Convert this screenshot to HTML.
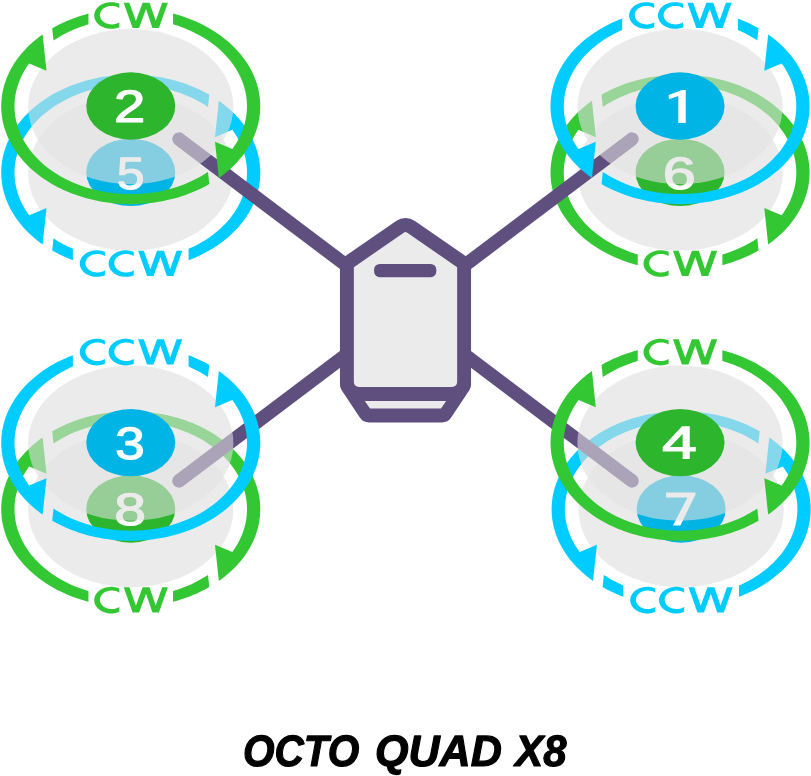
<!DOCTYPE html>
<html>
<head>
<meta charset="utf-8">
<title>OCTO QUAD X8</title>
<style>
html,body{margin:0;padding:0;background:#fff;}
svg{display:block;font-family:"Liberation Sans",sans-serif;will-change:transform;}
text{text-rendering:geometricPrecision;}
</style>
</head>
<body>
<svg width="811" height="776" viewBox="0 0 811 776">
<rect width="811" height="776" fill="#fff"/>
<g id="lower">
<ellipse cx="130.75" cy="173.00" rx="102.65" ry="77.62" fill="#ebebeb"/>
<path d="M223.53,139.80 222.21,137.76 220.96,135.96 219.65,134.19 218.27,132.44 216.84,130.73 215.35,129.04 213.80,127.38 212.19,125.75 210.52,124.15 208.81,122.59 207.03,121.06 205.21,119.57 203.33,118.12 199.44,115.32 195.35,112.68 193.24,111.42 191.09,110.21 186.66,107.90 182.08,105.78 177.35,103.84 174.94,102.94 170.03,101.29 167.54,100.54 162.47,99.18 159.90,98.58 157.32,98.03 152.09,97.08 149.46,96.68 144.15,96.05 138.80,95.62 133.44,95.41 130.75,95.38 125.38,95.49 122.70,95.62 117.35,96.05 114.69,96.34 109.41,97.08 106.79,97.53 101.60,98.58 99.03,99.18 93.96,100.54 91.47,101.29 86.56,102.94 81.77,104.79 79.42,105.78 74.84,107.90 72.61,109.03 68.26,111.42 66.15,112.68 62.06,115.32 58.17,118.12 56.29,119.57 54.47,121.06 52.69,122.59 50.98,124.15 49.31,125.75 47.70,127.38 46.15,129.04 44.66,130.73 43.23,132.44 41.85,134.19 40.54,135.96 39.29,137.76 37.97,139.80 39.29,141.84 40.54,143.64 41.85,145.41 43.23,147.16 44.66,148.87 46.15,150.56 47.70,152.22 49.31,153.85 50.98,155.45 52.69,157.01 54.47,158.54 56.29,160.03 58.17,161.48 60.09,162.90 64.08,165.62 68.26,168.18 72.61,170.57 74.84,171.70 77.12,172.78 81.77,174.81 84.15,175.76 89.00,177.51 91.47,178.31 96.48,179.77 101.60,181.02 106.79,182.07 109.41,182.52 112.04,182.92 117.35,183.55 120.02,183.79 125.38,184.11 130.75,184.22 136.12,184.11 138.80,183.98 141.48,183.79 146.81,183.26 149.46,182.92 154.71,182.07 159.90,181.02 165.02,179.77 167.54,179.06 170.03,178.31 174.94,176.66 179.73,174.81 182.08,173.82 186.66,171.70 188.89,170.57 193.24,168.18 195.35,166.92 199.44,164.28 201.41,162.90 203.33,161.48 205.21,160.03 207.03,158.54 208.81,157.01 210.52,155.45 212.19,153.85 213.80,152.22 215.35,150.56 216.84,148.87 218.27,147.16 219.65,145.41 220.96,143.64 222.21,141.84Z" fill="#f3f3f3"/>
<path transform="translate(130.75,172.60)" d="M-60.81,86.48 -65.75,84.40 -69.60,82.61 -74.30,80.24 -78.53,77.90 -77.23,65.70 -74.72,67.34 -72.37,68.79 -69.96,70.20 -67.51,71.56 -65.00,72.87 -62.46,74.13 -57.85,76.24 -57.85,87.64ZM-88.10,71.81 -90.79,69.86 -93.18,68.04 -97.02,64.90 -100.67,61.64 -102.77,59.63 -104.80,57.57 -108.02,54.06 -111.04,50.45 -112.74,48.23 -114.38,45.98 -116.92,42.17 -119.24,38.27 -120.53,35.90 -121.73,33.50 -123.54,29.45 -124.52,27.00 -125.41,24.52 -126.71,20.36 -127.37,17.85 -127.94,15.32 -128.43,12.79 -128.83,10.24 -129.30,5.98 -129.52,1.71 -129.53,-0.85 -129.46,-3.42 -129.14,-7.69 -128.57,-11.94 -128.12,-14.48 -127.57,-17.01 -126.47,-21.20 -125.12,-25.35 -124.20,-27.82 -123.20,-30.27 -122.11,-32.70 -120.93,-35.10 -118.79,-39.06 -117.40,-41.40 -115.93,-43.71 -113.30,-47.49 -111.61,-49.71 -109.86,-51.91 -106.76,-55.48 -103.45,-58.95 -101.38,-60.98 -99.23,-62.96 -95.51,-66.17 -91.60,-69.26 -87.52,-72.22 -84.99,-73.92 -82.40,-75.58 -77.96,-78.23 -75.22,-79.74 -72.44,-81.20 -69.60,-82.61 -66.72,-83.96 -61.81,-86.08 -58.81,-87.27 -55.77,-88.41 -50.61,-90.16 -47.48,-91.13 -44.30,-92.04 -38.95,-93.42 -33.53,-94.61 -30.24,-95.24 -26.93,-95.81 -21.38,-96.61 -18.03,-97.00 -14.66,-97.32 -9.04,-97.71 -5.65,-97.86 -2.26,-97.94 1.13,-97.95 4.52,-97.89 10.16,-97.65 13.54,-97.41 16.91,-97.11 22.49,-96.46 28.04,-95.63 31.34,-95.04 34.62,-94.39 40.03,-93.16 43.24,-92.33 46.42,-91.44 51.65,-89.83 54.75,-88.77 57.80,-87.66 62.80,-85.67 65.75,-84.40 68.65,-83.07 73.37,-80.72 76.14,-79.24 78.53,-77.90 77.23,-65.70 74.72,-67.34 72.37,-68.79 69.96,-70.20 67.51,-71.56 65.00,-72.87 62.46,-74.13 59.87,-75.35 56.36,-76.88 53.68,-77.97 50.96,-79.00 48.21,-79.99 44.49,-81.21 41.66,-82.06 38.80,-82.86 34.96,-83.83 32.04,-84.49 28.12,-85.29 25.16,-85.82 22.18,-86.29 19.19,-86.69 16.18,-87.04 13.16,-87.33 9.12,-87.63 6.08,-87.78 3.04,-87.87 0.00,-87.90 -3.04,-87.87 -6.08,-87.78 -9.12,-87.63 -12.15,-87.42 -16.18,-87.04 -19.19,-86.69 -24.17,-85.98 -29.11,-85.10 -33.99,-84.06 -38.80,-82.86 -43.55,-81.50 -48.21,-79.99 -52.78,-78.32 -57.24,-76.50 -61.60,-74.54 -65.84,-72.44 -69.96,-70.20 -73.94,-67.83 -77.78,-65.32 -81.48,-62.69 -85.02,-59.95 -87.06,-58.24 -89.05,-56.50 -92.23,-53.51 -95.22,-50.42 -98.04,-47.23 -100.67,-43.95 -103.11,-40.59 -105.36,-37.15 -107.40,-33.64 -109.24,-30.06 -110.87,-26.43 -112.29,-22.75 -113.49,-19.03 -114.48,-15.26 -115.25,-11.47 -115.81,-7.66 -116.14,-3.83 -116.25,-0.00 -116.21,2.30 -116.03,5.37 -115.71,8.42 -115.38,10.71 -114.82,13.75 -114.11,16.77 -113.49,19.03 -112.54,22.01 -111.46,24.96 -110.24,27.89 -108.89,30.78 -107.78,32.93 -106.20,35.75 -104.92,37.84 -103.11,40.59 -101.57,42.75 -84.24,35.45ZM129.42,4.27 129.14,7.69 128.83,10.24 128.28,13.63 127.57,17.01 126.71,20.36 125.69,23.70 124.83,26.18 123.54,29.45 122.11,32.70 120.53,35.90 119.24,38.27 117.40,41.40 115.42,44.47 113.30,47.49 111.04,50.45 108.64,53.35 106.11,56.18 103.45,58.95 101.38,60.98 98.50,63.61 95.51,66.17 92.39,68.65 89.17,71.05 86.68,72.79 83.27,75.03 79.75,77.19 76.14,79.24 73.37,80.72 69.60,82.61 65.75,84.40 61.81,86.08 57.85,87.64 57.85,76.24 60.74,74.95 64.16,73.30 67.51,71.56 70.77,69.74 73.16,68.31 76.27,66.34 79.28,64.29 82.20,62.15 84.32,60.51 87.06,58.24 89.70,55.91 92.23,53.51 94.05,51.67 96.37,49.15 98.58,46.58 100.67,43.95 102.16,41.94 103.58,39.91 105.78,36.45 107.01,34.35 108.16,32.22 109.91,28.62 111.46,24.96 112.29,22.75 113.04,20.52 114.11,16.77 114.65,14.51 115.12,12.23 115.71,8.42 116.03,5.37 116.21,2.30 116.24,-0.77 116.14,-3.83 115.89,-6.90 115.50,-9.95 114.82,-13.75 114.11,-16.77 113.27,-19.77 112.02,-23.49 110.87,-26.43 109.58,-29.34 108.16,-32.22 106.20,-35.75 104.48,-38.53 103.11,-40.59 101.57,-42.75 84.24,-35.45 88.10,-71.81 90.79,-69.86 93.18,-68.04 95.51,-66.17 97.76,-64.26 99.96,-62.30 102.08,-60.30 104.13,-58.26 106.11,-56.18 108.02,-54.06 109.86,-51.91 111.61,-49.71 113.30,-47.49 114.90,-45.23 116.43,-42.94 117.88,-40.62 119.68,-37.48 120.93,-35.10 122.11,-32.70 123.54,-29.45 124.52,-27.00 125.41,-24.52 126.22,-22.03 126.94,-19.53 127.57,-17.01 128.12,-14.48 128.57,-11.94 129.05,-8.54 129.30,-5.98 129.46,-3.42 129.53,-0.85 129.52,1.71Z" fill="#00ccff"/>
<path transform="translate(131.10,275.95)" d="M15.95,0.00 22.45,0.00 29.32,-18.83 35.75,0.00 42.25,0.00 51.20,-25.20 45.50,-25.20 39.05,-7.04 32.85,-25.20 25.95,-25.20 19.23,-6.80 12.70,-25.20 7.00,-25.20ZM-28.21,-24.82 -29.90,-25.25 -31.64,-25.54 -33.41,-25.68 -34.30,-25.70 -36.08,-25.63 -36.96,-25.54 -37.83,-25.41 -39.55,-25.05 -41.21,-24.55 -42.02,-24.25 -43.56,-23.55 -44.29,-23.16 -45.68,-22.28 -46.32,-21.80 -46.93,-21.30 -47.51,-20.77 -48.05,-20.22 -48.56,-19.64 -49.02,-19.05 -49.45,-18.44 -49.83,-17.81 -50.17,-17.17 -50.47,-16.51 -50.72,-15.84 -50.93,-15.17 -51.09,-14.48 -51.21,-13.79 -51.28,-13.10 -51.30,-12.40 -51.28,-11.70 -51.21,-11.01 -51.09,-10.32 -50.93,-9.63 -50.72,-8.96 -50.47,-8.29 -50.17,-7.63 -49.83,-6.99 -49.45,-6.36 -49.02,-5.75 -48.56,-5.16 -48.05,-4.58 -47.51,-4.03 -46.93,-3.50 -46.32,-3.00 -45.68,-2.52 -45.00,-2.06 -44.29,-1.64 -42.80,-0.88 -41.21,-0.25 -40.39,0.02 -38.70,0.45 -36.96,0.74 -36.08,0.83 -34.30,0.90 -32.52,0.83 -31.64,0.74 -30.77,0.61 -29.05,0.25 -27.39,-0.25 -26.20,-0.71 -26.20,-5.60 -27.27,-4.99 -27.80,-4.74 -28.91,-4.30 -29.49,-4.11 -30.67,-3.82 -31.89,-3.61 -33.13,-3.51 -33.75,-3.50 -34.37,-3.51 -35.61,-3.61 -36.83,-3.82 -38.01,-4.11 -38.59,-4.30 -39.70,-4.74 -40.23,-4.99 -41.24,-5.56 -41.71,-5.88 -42.59,-6.56 -43.00,-6.93 -43.73,-7.71 -44.35,-8.55 -44.62,-8.99 -45.07,-9.89 -45.39,-10.83 -45.58,-11.78 -45.63,-12.27 -45.65,-12.75 -45.58,-13.72 -45.50,-14.20 -45.24,-15.14 -44.86,-16.06 -44.35,-16.95 -44.06,-17.37 -43.38,-18.19 -43.00,-18.57 -42.16,-19.29 -41.24,-19.94 -40.74,-20.23 -40.23,-20.51 -39.15,-20.99 -38.01,-21.39 -37.43,-21.55 -36.22,-21.80 -34.99,-21.95 -34.37,-21.99 -33.75,-22.00 -32.51,-21.95 -31.89,-21.89 -30.67,-21.68 -30.07,-21.55 -28.91,-21.20 -28.35,-20.99 -27.27,-20.51 -26.20,-19.90 -26.20,-24.09 -27.39,-24.55ZM0.64,-24.82 -1.05,-25.25 -2.79,-25.54 -4.56,-25.68 -5.45,-25.70 -7.23,-25.63 -8.11,-25.54 -8.98,-25.41 -10.70,-25.05 -11.54,-24.82 -13.17,-24.25 -14.71,-23.55 -15.44,-23.16 -16.83,-22.28 -17.47,-21.80 -18.08,-21.30 -18.66,-20.77 -19.20,-20.22 -19.71,-19.64 -20.17,-19.05 -20.60,-18.44 -20.98,-17.81 -21.32,-17.17 -21.62,-16.51 -21.87,-15.84 -22.08,-15.17 -22.24,-14.48 -22.36,-13.79 -22.43,-13.10 -22.45,-12.40 -22.43,-11.70 -22.36,-11.01 -22.24,-10.32 -22.08,-9.63 -21.87,-8.96 -21.62,-8.29 -21.32,-7.63 -20.98,-6.99 -20.60,-6.36 -20.17,-5.75 -19.71,-5.16 -19.20,-4.58 -18.66,-4.03 -18.08,-3.50 -17.47,-3.00 -16.83,-2.52 -15.44,-1.64 -14.71,-1.25 -13.17,-0.55 -11.54,0.02 -10.70,0.25 -8.98,0.61 -8.11,0.74 -7.23,0.83 -5.45,0.90 -3.67,0.83 -2.79,0.74 -1.92,0.61 -0.20,0.25 1.46,-0.25 2.65,-0.71 2.65,-5.60 1.58,-4.99 1.05,-4.74 -0.06,-4.30 -0.64,-4.11 -1.82,-3.82 -3.04,-3.61 -4.28,-3.51 -4.90,-3.50 -6.14,-3.55 -7.37,-3.70 -7.98,-3.82 -8.58,-3.95 -9.74,-4.30 -10.85,-4.74 -11.38,-4.99 -12.39,-5.56 -12.86,-5.88 -13.74,-6.56 -14.15,-6.93 -14.88,-7.71 -15.50,-8.55 -15.77,-8.99 -16.22,-9.89 -16.39,-10.36 -16.65,-11.30 -16.78,-12.27 -16.80,-12.75 -16.73,-13.72 -16.65,-14.20 -16.39,-15.14 -16.22,-15.61 -15.77,-16.51 -15.21,-17.37 -14.53,-18.19 -14.15,-18.57 -13.31,-19.29 -12.39,-19.94 -11.89,-20.23 -11.38,-20.51 -10.30,-20.99 -9.16,-21.39 -8.58,-21.55 -7.37,-21.80 -6.14,-21.95 -5.52,-21.99 -4.90,-22.00 -3.66,-21.95 -3.04,-21.89 -1.82,-21.68 -1.22,-21.55 -0.06,-21.20 0.50,-20.99 1.58,-20.51 2.65,-19.90 2.65,-24.09 1.46,-24.55Z" fill="#00ccff"/>
<ellipse cx="130.75" cy="172.40" rx="44.5" ry="33.65" fill="#00b4e6"/>
<text transform="translate(116.66,188.75) scale(1.1008,1)" font-size="45.4" fill="#fff" stroke="#fff" stroke-width="1.2" stroke-linejoin="round">5</text>
<ellipse cx="680.05" cy="173.00" rx="102.65" ry="77.62" fill="#ebebeb"/>
<path d="M772.83,139.80 771.51,137.76 770.26,135.96 768.95,134.19 767.57,132.44 766.14,130.73 764.65,129.04 763.10,127.38 761.49,125.75 759.82,124.15 758.11,122.59 756.33,121.06 754.51,119.57 752.63,118.12 750.71,116.70 746.72,113.98 742.54,111.42 738.19,109.03 735.96,107.90 731.38,105.78 726.65,103.84 724.24,102.94 719.33,101.29 716.84,100.54 711.77,99.18 709.20,98.58 706.62,98.03 701.39,97.08 698.76,96.68 693.45,96.05 688.10,95.62 682.74,95.41 680.05,95.38 674.68,95.49 672.00,95.62 669.32,95.81 663.99,96.34 658.71,97.08 656.09,97.53 650.90,98.58 645.78,99.83 643.26,100.54 638.30,102.09 635.86,102.94 631.07,104.79 626.42,106.82 624.14,107.90 619.71,110.21 617.56,111.42 615.45,112.68 611.36,115.32 609.39,116.70 607.47,118.12 605.59,119.57 603.77,121.06 601.99,122.59 600.28,124.15 598.61,125.75 597.00,127.38 595.45,129.04 593.96,130.73 592.53,132.44 591.15,134.19 589.84,135.96 588.59,137.76 587.27,139.80 588.59,141.84 589.84,143.64 591.15,145.41 592.53,147.16 593.96,148.87 595.45,150.56 597.00,152.22 598.61,153.85 600.28,155.45 601.99,157.01 603.77,158.54 605.59,160.03 607.47,161.48 609.39,162.90 611.36,164.28 615.45,166.92 617.56,168.18 619.71,169.39 624.14,171.70 626.42,172.78 631.07,174.81 633.45,175.76 638.30,177.51 640.77,178.31 645.78,179.77 650.90,181.02 656.09,182.07 661.34,182.92 663.99,183.26 669.32,183.79 672.00,183.98 674.68,184.11 680.05,184.22 685.42,184.11 688.10,183.98 690.78,183.79 696.11,183.26 698.76,182.92 704.01,182.07 709.20,181.02 714.32,179.77 716.84,179.06 719.33,178.31 724.24,176.66 726.65,175.76 731.38,173.82 735.96,171.70 740.39,169.39 742.54,168.18 746.72,165.62 750.71,162.90 752.63,161.48 754.51,160.03 756.33,158.54 758.11,157.01 759.82,155.45 761.49,153.85 763.10,152.22 764.65,150.56 766.14,148.87 767.57,147.16 768.95,145.41 770.26,143.64 771.51,141.84Z" fill="#f3f3f3"/>
<path transform="translate(680.05,172.60)" d="M45.37,91.75 50.61,90.16 54.75,88.77 58.81,87.27 62.80,85.67 66.72,83.96 70.55,82.15 74.30,80.24 78.53,77.90 77.23,65.70 73.16,68.31 69.15,70.66 65.00,72.87 60.74,74.95 56.36,76.88 51.87,78.66 47.28,80.30 42.30,81.87 42.30,92.58ZM88.10,71.81 90.79,69.86 93.18,68.04 97.02,64.90 100.67,61.64 102.77,59.63 104.80,57.57 108.02,54.06 111.04,50.45 112.74,48.23 114.38,45.98 116.92,42.17 119.24,38.27 120.53,35.90 121.73,33.50 123.54,29.45 124.52,27.00 125.41,24.52 126.71,20.36 127.37,17.85 127.94,15.32 128.43,12.79 128.83,10.24 129.30,5.98 129.52,1.71 129.53,-0.85 129.46,-3.42 129.14,-7.69 128.57,-11.94 128.12,-14.48 127.57,-17.01 126.47,-21.20 125.12,-25.35 124.20,-27.82 123.20,-30.27 122.11,-32.70 120.93,-35.10 118.79,-39.06 117.40,-41.40 115.93,-43.71 113.30,-47.49 111.61,-49.71 109.86,-51.91 106.76,-55.48 103.45,-58.95 101.38,-60.98 99.23,-62.96 95.51,-66.17 91.60,-69.26 87.52,-72.22 84.99,-73.92 82.40,-75.58 77.96,-78.23 75.22,-79.74 72.44,-81.20 69.60,-82.61 66.72,-83.96 61.81,-86.08 58.81,-87.27 55.77,-88.41 50.61,-90.16 47.48,-91.13 44.30,-92.04 38.95,-93.42 33.53,-94.61 30.24,-95.24 26.93,-95.81 21.38,-96.61 18.03,-97.00 14.66,-97.32 9.04,-97.71 5.65,-97.86 2.26,-97.94 -1.13,-97.95 -4.52,-97.89 -10.16,-97.65 -13.54,-97.41 -16.91,-97.11 -22.49,-96.46 -28.04,-95.63 -31.34,-95.04 -34.62,-94.39 -40.03,-93.16 -43.24,-92.33 -46.42,-91.44 -51.65,-89.83 -54.75,-88.77 -57.80,-87.66 -62.80,-85.67 -65.75,-84.40 -68.65,-83.07 -73.37,-80.72 -76.14,-79.24 -78.53,-77.90 -77.23,-65.70 -74.72,-67.34 -72.37,-68.79 -69.96,-70.20 -67.51,-71.56 -65.00,-72.87 -62.46,-74.13 -59.87,-75.35 -56.36,-76.88 -53.68,-77.97 -50.96,-79.00 -48.21,-79.99 -44.49,-81.21 -41.66,-82.06 -38.80,-82.86 -34.96,-83.83 -32.04,-84.49 -28.12,-85.29 -25.16,-85.82 -22.18,-86.29 -19.19,-86.69 -16.18,-87.04 -13.16,-87.33 -9.12,-87.63 -6.08,-87.78 -3.04,-87.87 -0.00,-87.90 3.04,-87.87 6.08,-87.78 9.12,-87.63 12.15,-87.42 16.18,-87.04 19.19,-86.69 24.17,-85.98 29.11,-85.10 33.99,-84.06 38.80,-82.86 43.55,-81.50 48.21,-79.99 52.78,-78.32 57.24,-76.50 61.60,-74.54 65.84,-72.44 69.96,-70.20 73.94,-67.83 77.78,-65.32 81.48,-62.69 85.02,-59.95 87.06,-58.24 89.05,-56.50 92.23,-53.51 95.22,-50.42 98.04,-47.23 100.67,-43.95 103.11,-40.59 105.36,-37.15 107.40,-33.64 109.24,-30.06 110.87,-26.43 112.29,-22.75 113.49,-19.03 114.48,-15.26 115.25,-11.47 115.81,-7.66 116.14,-3.83 116.25,-0.00 116.21,2.30 116.03,5.37 115.71,8.42 115.38,10.71 114.82,13.75 114.11,16.77 113.49,19.03 112.54,22.01 111.46,24.96 110.24,27.89 108.89,30.78 107.78,32.93 106.20,35.75 104.92,37.84 103.11,40.59 101.57,42.75 84.24,35.45ZM-129.42,4.27 -129.05,8.54 -128.57,11.94 -127.94,15.32 -127.16,18.69 -126.22,22.03 -124.83,26.18 -123.54,29.45 -122.11,32.70 -120.53,35.90 -118.34,39.84 -116.43,42.94 -114.38,45.98 -112.18,48.98 -109.25,52.63 -106.76,55.48 -104.13,58.26 -101.38,60.98 -98.50,63.61 -94.74,66.80 -91.60,69.26 -88.35,71.64 -84.13,74.48 -80.64,76.66 -77.05,78.74 -73.37,80.72 -69.60,82.61 -64.77,84.83 -60.81,86.48 -56.79,88.04 -51.65,89.83 -47.48,91.13 -42.30,92.58 -42.30,81.87 -46.35,80.61 -50.05,79.34 -53.68,77.97 -57.24,76.50 -60.74,74.95 -64.16,73.30 -67.51,71.56 -70.77,69.74 -73.94,67.83 -77.03,65.83 -80.02,63.76 -82.91,61.61 -85.71,59.38 -88.40,57.09 -91.60,54.12 -94.05,51.67 -95.80,49.79 -97.49,47.87 -99.12,45.93 -100.67,43.95 -102.16,41.94 -103.58,39.91 -104.92,37.84 -106.20,35.75 -107.40,33.64 -108.53,31.50 -109.58,29.34 -110.56,27.16 -111.46,24.96 -112.29,22.75 -113.04,20.52 -113.71,18.28 -114.48,15.26 -115.25,11.47 -115.71,8.42 -116.03,5.37 -116.23,1.53 -116.23,-1.53 -116.03,-5.37 -115.71,-8.42 -115.25,-11.47 -114.65,-14.51 -113.71,-18.28 -112.79,-21.26 -111.46,-24.96 -110.24,-27.89 -108.89,-30.78 -107.40,-33.64 -106.20,-35.75 -104.48,-38.53 -103.11,-40.59 -101.57,-42.75 -84.24,-35.45 -88.10,-71.81 -90.79,-69.86 -93.18,-68.04 -95.51,-66.17 -97.76,-64.26 -99.96,-62.30 -102.08,-60.30 -104.13,-58.26 -106.11,-56.18 -108.02,-54.06 -109.86,-51.91 -111.61,-49.71 -113.30,-47.49 -114.90,-45.23 -116.43,-42.94 -117.88,-40.62 -119.68,-37.48 -120.93,-35.10 -122.11,-32.70 -123.54,-29.45 -124.52,-27.00 -125.41,-24.52 -126.22,-22.03 -126.94,-19.53 -127.57,-17.01 -128.12,-14.48 -128.57,-11.94 -129.05,-8.54 -129.30,-5.98 -129.46,-3.42 -129.53,-0.85 -129.52,1.71Z" fill="#33c733"/>
<path transform="translate(680.40,275.95)" d="M1.52,0.00 8.02,0.00 14.90,-18.83 21.33,0.00 27.83,0.00 36.78,-25.20 31.07,-25.20 24.62,-7.04 18.42,-25.20 11.52,-25.20 4.81,-6.80 -1.73,-25.20 -7.43,-25.20ZM-12.96,-24.55 -14.62,-25.05 -15.48,-25.25 -17.22,-25.54 -18.99,-25.68 -19.88,-25.70 -21.65,-25.63 -23.41,-25.41 -24.27,-25.25 -25.13,-25.05 -26.79,-24.55 -27.59,-24.25 -29.13,-23.55 -30.57,-22.74 -31.25,-22.28 -31.90,-21.80 -32.51,-21.30 -33.09,-20.77 -33.63,-20.22 -34.13,-19.64 -34.60,-19.05 -35.02,-18.44 -35.41,-17.81 -35.75,-17.17 -36.04,-16.51 -36.30,-15.84 -36.50,-15.17 -36.67,-14.48 -36.78,-13.79 -36.85,-13.10 -36.88,-12.40 -36.85,-11.70 -36.78,-11.01 -36.67,-10.32 -36.50,-9.63 -36.30,-8.96 -36.04,-8.29 -35.75,-7.63 -35.41,-6.99 -35.02,-6.36 -34.60,-5.75 -34.13,-5.16 -33.63,-4.58 -33.09,-4.03 -32.51,-3.50 -31.90,-3.00 -31.25,-2.52 -29.87,-1.64 -29.13,-1.25 -27.59,-0.55 -26.79,-0.25 -25.13,0.25 -23.41,0.61 -21.65,0.83 -19.87,0.90 -18.10,0.83 -17.22,0.74 -16.34,0.61 -14.62,0.25 -12.96,-0.25 -11.77,-0.71 -11.77,-5.60 -12.84,-4.99 -13.38,-4.74 -14.48,-4.30 -15.06,-4.11 -16.25,-3.82 -17.46,-3.61 -18.70,-3.51 -19.32,-3.50 -20.57,-3.55 -21.80,-3.70 -22.40,-3.82 -23.59,-4.11 -24.17,-4.30 -25.27,-4.74 -25.81,-4.99 -26.81,-5.56 -27.29,-5.88 -28.17,-6.56 -28.57,-6.93 -29.31,-7.71 -29.93,-8.55 -30.20,-8.99 -30.64,-9.89 -30.96,-10.83 -31.16,-11.78 -31.21,-12.27 -31.23,-12.75 -31.16,-13.72 -31.08,-14.20 -30.82,-15.14 -30.64,-15.61 -30.20,-16.51 -29.63,-17.37 -28.95,-18.19 -28.57,-18.57 -27.74,-19.29 -26.81,-19.94 -26.32,-20.23 -25.81,-20.51 -24.73,-20.99 -23.59,-21.39 -23.00,-21.55 -22.40,-21.68 -21.19,-21.89 -20.57,-21.95 -19.33,-22.00 -18.08,-21.95 -17.46,-21.89 -16.25,-21.68 -15.65,-21.55 -14.48,-21.20 -13.92,-20.99 -12.84,-20.51 -11.77,-19.90 -11.77,-24.09Z" fill="#33c733"/>
<ellipse cx="680.05" cy="172.40" rx="44.5" ry="33.65" fill="#2eb52e"/>
<text transform="translate(662.81,188.75) scale(1.3086,1)" font-size="45.4" fill="#fff" stroke="#fff" stroke-width="1.2" stroke-linejoin="round">6</text>
<ellipse cx="130.75" cy="509.60" rx="102.65" ry="77.62" fill="#ebebeb"/>
<path d="M223.53,476.40 222.21,474.36 220.96,472.56 219.65,470.79 218.27,469.04 216.84,467.33 215.35,465.64 213.80,463.98 212.19,462.35 210.52,460.75 208.81,459.19 207.03,457.66 205.21,456.17 203.33,454.72 201.41,453.30 197.42,450.58 195.35,449.28 193.24,448.02 188.89,445.63 184.38,443.42 182.08,442.38 177.35,440.44 172.50,438.69 170.03,437.89 165.02,436.43 159.90,435.18 154.71,434.13 152.09,433.68 149.46,433.28 144.15,432.65 138.80,432.22 133.44,432.01 130.75,431.98 128.06,432.01 122.70,432.22 117.35,432.65 112.04,433.28 109.41,433.68 106.79,434.13 101.60,435.18 99.03,435.78 93.96,437.14 89.00,438.69 84.15,440.44 81.77,441.39 77.12,443.42 74.84,444.50 70.41,446.81 66.15,449.28 64.08,450.58 60.09,453.30 58.17,454.72 56.29,456.17 54.47,457.66 52.69,459.19 50.98,460.75 49.31,462.35 47.70,463.98 46.15,465.64 44.66,467.33 43.23,469.04 41.85,470.79 40.54,472.56 39.29,474.36 37.97,476.40 39.29,478.44 40.54,480.24 41.85,482.01 43.23,483.76 44.66,485.47 46.15,487.16 47.70,488.82 49.31,490.45 50.98,492.05 52.69,493.61 54.47,495.14 56.29,496.63 58.17,498.08 62.06,500.88 64.08,502.22 68.26,504.78 72.61,507.17 74.84,508.30 79.43,510.42 81.77,511.41 86.56,513.26 91.47,514.91 93.96,515.66 96.48,516.37 101.60,517.62 106.79,518.67 109.41,519.12 112.04,519.52 117.35,520.15 122.70,520.58 125.38,520.71 130.75,520.82 136.12,520.71 138.80,520.58 141.48,520.39 146.81,519.86 152.09,519.12 154.71,518.67 159.90,517.62 165.02,516.37 167.54,515.66 172.50,514.11 174.94,513.26 179.73,511.41 182.08,510.42 186.66,508.30 188.89,507.17 193.24,504.78 197.42,502.22 199.44,500.88 203.33,498.08 205.21,496.63 207.03,495.14 208.81,493.61 210.52,492.05 212.19,490.45 213.80,488.82 215.35,487.16 216.84,485.47 218.27,483.76 219.65,482.01 220.96,480.24 222.21,478.44Z" fill="#f3f3f3"/>
<path transform="translate(130.75,509.20)" d="M45.37,91.75 50.61,90.16 54.75,88.77 58.81,87.27 62.80,85.67 66.72,83.96 70.55,82.15 74.30,80.24 78.53,77.90 77.23,65.70 73.16,68.31 69.15,70.66 65.00,72.87 60.74,74.95 56.36,76.88 51.87,78.66 47.28,80.30 42.30,81.87 42.30,92.58ZM88.10,71.81 90.79,69.86 93.18,68.04 97.02,64.90 100.67,61.64 102.77,59.63 104.80,57.57 108.02,54.06 111.04,50.45 112.74,48.23 114.38,45.98 116.92,42.17 119.24,38.27 120.53,35.90 121.73,33.50 123.54,29.45 124.52,27.00 125.41,24.52 126.71,20.36 127.37,17.85 127.94,15.32 128.43,12.79 128.83,10.24 129.30,5.98 129.52,1.71 129.53,-0.85 129.46,-3.42 129.14,-7.69 128.57,-11.94 128.12,-14.48 127.57,-17.01 126.47,-21.20 125.12,-25.35 124.20,-27.82 123.20,-30.27 122.11,-32.70 120.93,-35.10 118.79,-39.06 117.40,-41.40 115.93,-43.71 113.30,-47.49 111.61,-49.71 109.86,-51.91 106.76,-55.48 103.45,-58.95 101.38,-60.98 99.23,-62.96 95.51,-66.17 91.60,-69.26 87.52,-72.22 84.99,-73.92 82.40,-75.58 77.96,-78.23 75.22,-79.74 72.44,-81.20 69.60,-82.61 66.72,-83.96 61.81,-86.08 58.81,-87.27 55.77,-88.41 50.61,-90.16 47.48,-91.13 44.30,-92.04 38.95,-93.42 33.53,-94.61 30.24,-95.24 26.93,-95.81 21.38,-96.61 18.03,-97.00 14.66,-97.32 9.04,-97.71 5.65,-97.86 2.26,-97.94 -1.13,-97.95 -4.52,-97.89 -10.16,-97.65 -13.54,-97.41 -16.91,-97.11 -22.49,-96.46 -28.04,-95.63 -31.34,-95.04 -34.62,-94.39 -40.03,-93.16 -43.24,-92.33 -46.42,-91.44 -51.65,-89.83 -54.75,-88.77 -57.80,-87.66 -62.80,-85.67 -65.75,-84.40 -68.65,-83.07 -73.37,-80.72 -76.14,-79.24 -78.53,-77.90 -77.23,-65.70 -74.72,-67.34 -72.37,-68.79 -69.96,-70.20 -67.51,-71.56 -65.00,-72.87 -62.46,-74.13 -59.87,-75.35 -56.36,-76.88 -53.68,-77.97 -50.96,-79.00 -48.21,-79.99 -44.49,-81.21 -41.66,-82.06 -38.80,-82.86 -34.96,-83.83 -32.04,-84.49 -28.12,-85.29 -25.16,-85.82 -22.18,-86.29 -19.19,-86.69 -16.18,-87.04 -13.16,-87.33 -9.12,-87.63 -6.08,-87.78 -3.04,-87.87 -0.00,-87.90 3.04,-87.87 6.08,-87.78 9.12,-87.63 12.15,-87.42 16.18,-87.04 19.19,-86.69 24.17,-85.98 29.11,-85.10 33.99,-84.06 38.80,-82.86 43.55,-81.50 48.21,-79.99 52.78,-78.32 57.24,-76.50 61.60,-74.54 65.84,-72.44 69.96,-70.20 73.94,-67.83 77.78,-65.32 81.48,-62.69 85.02,-59.95 87.06,-58.24 89.05,-56.50 92.23,-53.51 95.22,-50.42 98.04,-47.23 100.67,-43.95 103.11,-40.59 105.36,-37.15 107.40,-33.64 109.24,-30.06 110.87,-26.43 112.29,-22.75 113.49,-19.03 114.48,-15.26 115.25,-11.47 115.81,-7.66 116.14,-3.83 116.25,-0.00 116.21,2.30 116.03,5.37 115.71,8.42 115.38,10.71 114.82,13.75 114.11,16.77 113.49,19.03 112.54,22.01 111.46,24.96 110.24,27.89 108.89,30.78 107.78,32.93 106.20,35.75 104.92,37.84 103.11,40.59 101.57,42.75 84.24,35.45ZM-129.42,4.27 -129.05,8.54 -128.57,11.94 -127.94,15.32 -127.16,18.69 -126.22,22.03 -124.83,26.18 -123.54,29.45 -122.11,32.70 -120.53,35.90 -118.34,39.84 -116.43,42.94 -114.38,45.98 -112.18,48.98 -109.25,52.63 -106.76,55.48 -104.13,58.26 -101.38,60.98 -98.50,63.61 -94.74,66.80 -91.60,69.26 -88.35,71.64 -84.13,74.48 -80.64,76.66 -77.05,78.74 -73.37,80.72 -69.60,82.61 -64.77,84.83 -60.81,86.48 -56.79,88.04 -51.65,89.83 -47.48,91.13 -42.30,92.58 -42.30,81.87 -46.35,80.61 -50.05,79.34 -53.68,77.97 -57.24,76.50 -60.74,74.95 -64.16,73.30 -67.51,71.56 -70.77,69.74 -73.94,67.83 -77.03,65.83 -80.02,63.76 -82.91,61.61 -85.71,59.38 -88.40,57.09 -91.60,54.12 -94.05,51.67 -95.80,49.79 -97.49,47.87 -99.12,45.93 -100.67,43.95 -102.16,41.94 -103.58,39.91 -104.92,37.84 -106.20,35.75 -107.40,33.64 -108.53,31.50 -109.58,29.34 -110.56,27.16 -111.46,24.96 -112.29,22.75 -113.04,20.52 -113.71,18.28 -114.48,15.26 -115.25,11.47 -115.71,8.42 -116.03,5.37 -116.23,1.53 -116.23,-1.53 -116.03,-5.37 -115.71,-8.42 -115.25,-11.47 -114.65,-14.51 -113.71,-18.28 -112.79,-21.26 -111.46,-24.96 -110.24,-27.89 -108.89,-30.78 -107.40,-33.64 -106.20,-35.75 -104.48,-38.53 -103.11,-40.59 -101.57,-42.75 -84.24,-35.45 -88.10,-71.81 -90.79,-69.86 -93.18,-68.04 -95.51,-66.17 -97.76,-64.26 -99.96,-62.30 -102.08,-60.30 -104.13,-58.26 -106.11,-56.18 -108.02,-54.06 -109.86,-51.91 -111.61,-49.71 -113.30,-47.49 -114.90,-45.23 -116.43,-42.94 -117.88,-40.62 -119.68,-37.48 -120.93,-35.10 -122.11,-32.70 -123.54,-29.45 -124.52,-27.00 -125.41,-24.52 -126.22,-22.03 -126.94,-19.53 -127.57,-17.01 -128.12,-14.48 -128.57,-11.94 -129.05,-8.54 -129.30,-5.98 -129.46,-3.42 -129.53,-0.85 -129.52,1.71Z" fill="#33c733"/>
<path transform="translate(131.10,612.55)" d="M1.52,0.00 8.02,0.00 14.90,-18.83 21.33,0.00 27.83,0.00 36.78,-25.20 31.07,-25.20 24.62,-7.04 18.42,-25.20 11.52,-25.20 4.81,-6.80 -1.73,-25.20 -7.43,-25.20ZM-12.96,-24.55 -14.62,-25.05 -15.48,-25.25 -17.22,-25.54 -18.99,-25.68 -19.88,-25.70 -21.65,-25.63 -23.41,-25.41 -24.27,-25.25 -25.13,-25.05 -26.79,-24.55 -27.59,-24.25 -29.13,-23.55 -30.57,-22.74 -31.25,-22.28 -31.90,-21.80 -32.51,-21.30 -33.09,-20.77 -33.63,-20.22 -34.13,-19.64 -34.60,-19.05 -35.02,-18.44 -35.41,-17.81 -35.75,-17.17 -36.04,-16.51 -36.30,-15.84 -36.50,-15.17 -36.67,-14.48 -36.78,-13.79 -36.85,-13.10 -36.88,-12.40 -36.85,-11.70 -36.78,-11.01 -36.67,-10.32 -36.50,-9.63 -36.30,-8.96 -36.04,-8.29 -35.75,-7.63 -35.41,-6.99 -35.02,-6.36 -34.60,-5.75 -34.13,-5.16 -33.63,-4.58 -33.09,-4.03 -32.51,-3.50 -31.90,-3.00 -31.25,-2.52 -29.87,-1.64 -29.13,-1.25 -27.59,-0.55 -26.79,-0.25 -25.13,0.25 -23.41,0.61 -21.65,0.83 -19.87,0.90 -18.10,0.83 -17.22,0.74 -16.34,0.61 -14.62,0.25 -12.96,-0.25 -11.77,-0.71 -11.77,-5.60 -12.84,-4.99 -13.38,-4.74 -14.48,-4.30 -15.06,-4.11 -16.25,-3.82 -17.46,-3.61 -18.70,-3.51 -19.32,-3.50 -20.57,-3.55 -21.80,-3.70 -22.40,-3.82 -23.59,-4.11 -24.17,-4.30 -25.27,-4.74 -25.81,-4.99 -26.81,-5.56 -27.29,-5.88 -28.17,-6.56 -28.57,-6.93 -29.31,-7.71 -29.93,-8.55 -30.20,-8.99 -30.64,-9.89 -30.96,-10.83 -31.16,-11.78 -31.21,-12.27 -31.23,-12.75 -31.16,-13.72 -31.08,-14.20 -30.82,-15.14 -30.64,-15.61 -30.20,-16.51 -29.63,-17.37 -28.95,-18.19 -28.57,-18.57 -27.74,-19.29 -26.81,-19.94 -26.32,-20.23 -25.81,-20.51 -24.73,-20.99 -23.59,-21.39 -23.00,-21.55 -22.40,-21.68 -21.19,-21.89 -20.57,-21.95 -19.33,-22.00 -18.08,-21.95 -17.46,-21.89 -16.25,-21.68 -15.65,-21.55 -14.48,-21.20 -13.92,-20.99 -12.84,-20.51 -11.77,-19.90 -11.77,-24.09Z" fill="#33c733"/>
<ellipse cx="130.75" cy="509.00" rx="44.5" ry="33.65" fill="#2eb52e"/>
<text transform="translate(114.19,524.95) scale(1.2557,1)" font-size="45.4" fill="#fff" stroke="#fff" stroke-width="1.2" stroke-linejoin="round">8</text>
<ellipse cx="681.15" cy="509.60" rx="102.65" ry="77.62" fill="#ebebeb"/>
<path d="M773.37,475.52 771.36,472.56 770.05,470.79 768.67,469.04 767.24,467.33 765.75,465.64 764.20,463.98 762.59,462.35 760.92,460.75 759.21,459.19 757.43,457.66 755.61,456.17 753.73,454.72 751.81,453.30 749.84,451.92 745.75,449.28 741.49,446.81 739.29,445.63 737.06,444.50 732.48,442.38 727.75,440.44 722.90,438.69 720.43,437.89 715.42,436.43 712.87,435.78 707.72,434.63 705.11,434.13 699.86,433.28 694.55,432.65 691.88,432.41 689.20,432.22 683.84,432.01 678.46,432.01 673.10,432.22 670.42,432.41 667.75,432.65 662.44,433.28 657.19,434.13 652.00,435.18 649.43,435.78 644.36,437.14 641.87,437.89 636.96,439.54 632.17,441.39 627.52,443.42 625.24,444.50 623.01,445.63 618.66,448.02 616.55,449.28 612.46,451.92 610.49,453.30 608.57,454.72 606.69,456.17 604.87,457.66 603.09,459.19 601.38,460.75 599.71,462.35 598.10,463.98 596.55,465.64 595.06,467.33 593.63,469.04 592.25,470.79 590.94,472.56 589.69,474.36 587.83,477.28 589.84,480.24 591.15,482.01 592.53,483.76 593.96,485.47 595.45,487.16 597.00,488.82 598.61,490.45 600.28,492.05 601.99,493.61 603.77,495.14 605.59,496.63 607.47,498.08 609.39,499.50 613.38,502.22 617.56,504.78 619.71,505.99 621.91,507.17 626.42,509.38 631.07,511.41 635.86,513.26 638.30,514.11 640.77,514.91 645.78,516.37 650.90,517.62 653.48,518.17 658.71,519.12 661.34,519.52 666.65,520.15 672.00,520.58 674.68,520.71 680.05,520.82 682.74,520.79 685.42,520.71 690.78,520.39 696.11,519.86 698.76,519.52 704.01,518.67 709.20,517.62 711.77,517.02 714.32,516.37 719.33,514.91 724.24,513.26 729.03,511.41 731.38,510.42 735.96,508.30 738.19,507.17 742.54,504.78 744.65,503.52 746.72,502.22 750.71,499.50 752.63,498.08 754.51,496.63 756.33,495.14 758.11,493.61 759.82,492.05 761.49,490.45 763.10,488.82 764.65,487.16 766.14,485.47 767.57,483.76 768.95,482.01 770.26,480.24 771.51,478.44Z" fill="#f3f3f3"/>
<path transform="translate(681.15,509.20)" d="M-60.81,86.48 -65.75,84.40 -69.60,82.61 -74.30,80.24 -78.53,77.90 -77.23,65.70 -74.72,67.34 -72.37,68.79 -69.96,70.20 -67.51,71.56 -65.00,72.87 -62.46,74.13 -57.85,76.24 -57.85,87.64ZM-88.10,71.81 -90.79,69.86 -93.18,68.04 -97.02,64.90 -100.67,61.64 -102.77,59.63 -104.80,57.57 -108.02,54.06 -111.04,50.45 -112.74,48.23 -114.38,45.98 -116.92,42.17 -119.24,38.27 -120.53,35.90 -121.73,33.50 -123.54,29.45 -124.52,27.00 -125.41,24.52 -126.71,20.36 -127.37,17.85 -127.94,15.32 -128.43,12.79 -128.83,10.24 -129.30,5.98 -129.52,1.71 -129.53,-0.85 -129.46,-3.42 -129.14,-7.69 -128.57,-11.94 -128.12,-14.48 -127.57,-17.01 -126.47,-21.20 -125.12,-25.35 -124.20,-27.82 -123.20,-30.27 -122.11,-32.70 -120.93,-35.10 -118.79,-39.06 -117.40,-41.40 -115.93,-43.71 -113.30,-47.49 -111.61,-49.71 -109.86,-51.91 -106.76,-55.48 -103.45,-58.95 -101.38,-60.98 -99.23,-62.96 -95.51,-66.17 -91.60,-69.26 -87.52,-72.22 -84.99,-73.92 -82.40,-75.58 -77.96,-78.23 -75.22,-79.74 -72.44,-81.20 -69.60,-82.61 -66.72,-83.96 -61.81,-86.08 -58.81,-87.27 -55.77,-88.41 -50.61,-90.16 -47.48,-91.13 -44.30,-92.04 -38.95,-93.42 -33.53,-94.61 -30.24,-95.24 -26.93,-95.81 -21.38,-96.61 -18.03,-97.00 -14.66,-97.32 -9.04,-97.71 -5.65,-97.86 -2.26,-97.94 1.13,-97.95 4.52,-97.89 10.16,-97.65 13.54,-97.41 16.91,-97.11 22.49,-96.46 28.04,-95.63 31.34,-95.04 34.62,-94.39 40.03,-93.16 43.24,-92.33 46.42,-91.44 51.65,-89.83 54.75,-88.77 57.80,-87.66 62.80,-85.67 65.75,-84.40 68.65,-83.07 73.37,-80.72 76.14,-79.24 78.53,-77.90 77.23,-65.70 74.72,-67.34 72.37,-68.79 69.96,-70.20 67.51,-71.56 65.00,-72.87 62.46,-74.13 59.87,-75.35 56.36,-76.88 53.68,-77.97 50.96,-79.00 48.21,-79.99 44.49,-81.21 41.66,-82.06 38.80,-82.86 34.96,-83.83 32.04,-84.49 28.12,-85.29 25.16,-85.82 22.18,-86.29 19.19,-86.69 16.18,-87.04 13.16,-87.33 9.12,-87.63 6.08,-87.78 3.04,-87.87 0.00,-87.90 -3.04,-87.87 -6.08,-87.78 -9.12,-87.63 -12.15,-87.42 -16.18,-87.04 -19.19,-86.69 -24.17,-85.98 -29.11,-85.10 -33.99,-84.06 -38.80,-82.86 -43.55,-81.50 -48.21,-79.99 -52.78,-78.32 -57.24,-76.50 -61.60,-74.54 -65.84,-72.44 -69.96,-70.20 -73.94,-67.83 -77.78,-65.32 -81.48,-62.69 -85.02,-59.95 -87.06,-58.24 -89.05,-56.50 -92.23,-53.51 -95.22,-50.42 -98.04,-47.23 -100.67,-43.95 -103.11,-40.59 -105.36,-37.15 -107.40,-33.64 -109.24,-30.06 -110.87,-26.43 -112.29,-22.75 -113.49,-19.03 -114.48,-15.26 -115.25,-11.47 -115.81,-7.66 -116.14,-3.83 -116.25,-0.00 -116.21,2.30 -116.03,5.37 -115.71,8.42 -115.38,10.71 -114.82,13.75 -114.11,16.77 -113.49,19.03 -112.54,22.01 -111.46,24.96 -110.24,27.89 -108.89,30.78 -107.78,32.93 -106.20,35.75 -104.92,37.84 -103.11,40.59 -101.57,42.75 -84.24,35.45ZM129.42,4.27 129.14,7.69 128.83,10.24 128.28,13.63 127.57,17.01 126.71,20.36 125.69,23.70 124.83,26.18 123.54,29.45 122.11,32.70 120.53,35.90 119.24,38.27 117.40,41.40 115.42,44.47 113.30,47.49 111.04,50.45 108.64,53.35 106.11,56.18 103.45,58.95 101.38,60.98 98.50,63.61 95.51,66.17 92.39,68.65 89.17,71.05 86.68,72.79 83.27,75.03 79.75,77.19 76.14,79.24 73.37,80.72 69.60,82.61 65.75,84.40 61.81,86.08 57.85,87.64 57.85,76.24 60.74,74.95 64.16,73.30 67.51,71.56 70.77,69.74 73.16,68.31 76.27,66.34 79.28,64.29 82.20,62.15 84.32,60.51 87.06,58.24 89.70,55.91 92.23,53.51 94.05,51.67 96.37,49.15 98.58,46.58 100.67,43.95 102.16,41.94 103.58,39.91 105.78,36.45 107.01,34.35 108.16,32.22 109.91,28.62 111.46,24.96 112.29,22.75 113.04,20.52 114.11,16.77 114.65,14.51 115.12,12.23 115.71,8.42 116.03,5.37 116.21,2.30 116.24,-0.77 116.14,-3.83 115.89,-6.90 115.50,-9.95 114.82,-13.75 114.11,-16.77 113.27,-19.77 112.02,-23.49 110.87,-26.43 109.58,-29.34 108.16,-32.22 106.20,-35.75 104.48,-38.53 103.11,-40.59 101.57,-42.75 84.24,-35.45 88.10,-71.81 90.79,-69.86 93.18,-68.04 95.51,-66.17 97.76,-64.26 99.96,-62.30 102.08,-60.30 104.13,-58.26 106.11,-56.18 108.02,-54.06 109.86,-51.91 111.61,-49.71 113.30,-47.49 114.90,-45.23 116.43,-42.94 117.88,-40.62 119.68,-37.48 120.93,-35.10 122.11,-32.70 123.54,-29.45 124.52,-27.00 125.41,-24.52 126.22,-22.03 126.94,-19.53 127.57,-17.01 128.12,-14.48 128.57,-11.94 129.05,-8.54 129.30,-5.98 129.46,-3.42 129.53,-0.85 129.52,1.71Z" fill="#00ccff"/>
<path transform="translate(681.50,612.55)" d="M15.95,0.00 22.45,0.00 29.32,-18.83 35.75,0.00 42.25,0.00 51.20,-25.20 45.50,-25.20 39.05,-7.04 32.85,-25.20 25.95,-25.20 19.23,-6.80 12.70,-25.20 7.00,-25.20ZM-28.21,-24.82 -29.90,-25.25 -31.64,-25.54 -33.41,-25.68 -34.30,-25.70 -36.08,-25.63 -36.96,-25.54 -37.83,-25.41 -39.55,-25.05 -41.21,-24.55 -42.02,-24.25 -43.56,-23.55 -44.29,-23.16 -45.68,-22.28 -46.32,-21.80 -46.93,-21.30 -47.51,-20.77 -48.05,-20.22 -48.56,-19.64 -49.02,-19.05 -49.45,-18.44 -49.83,-17.81 -50.17,-17.17 -50.47,-16.51 -50.72,-15.84 -50.93,-15.17 -51.09,-14.48 -51.21,-13.79 -51.28,-13.10 -51.30,-12.40 -51.28,-11.70 -51.21,-11.01 -51.09,-10.32 -50.93,-9.63 -50.72,-8.96 -50.47,-8.29 -50.17,-7.63 -49.83,-6.99 -49.45,-6.36 -49.02,-5.75 -48.56,-5.16 -48.05,-4.58 -47.51,-4.03 -46.93,-3.50 -46.32,-3.00 -45.68,-2.52 -45.00,-2.06 -44.29,-1.64 -42.80,-0.88 -41.21,-0.25 -40.39,0.02 -38.70,0.45 -36.96,0.74 -36.08,0.83 -34.30,0.90 -32.52,0.83 -31.64,0.74 -30.77,0.61 -29.05,0.25 -27.39,-0.25 -26.20,-0.71 -26.20,-5.60 -27.27,-4.99 -27.80,-4.74 -28.91,-4.30 -29.49,-4.11 -30.67,-3.82 -31.89,-3.61 -33.13,-3.51 -33.75,-3.50 -34.37,-3.51 -35.61,-3.61 -36.83,-3.82 -38.01,-4.11 -38.59,-4.30 -39.70,-4.74 -40.23,-4.99 -41.24,-5.56 -41.71,-5.88 -42.59,-6.56 -43.00,-6.93 -43.73,-7.71 -44.35,-8.55 -44.62,-8.99 -45.07,-9.89 -45.39,-10.83 -45.58,-11.78 -45.63,-12.27 -45.65,-12.75 -45.58,-13.72 -45.50,-14.20 -45.24,-15.14 -44.86,-16.06 -44.35,-16.95 -44.06,-17.37 -43.38,-18.19 -43.00,-18.57 -42.16,-19.29 -41.24,-19.94 -40.74,-20.23 -40.23,-20.51 -39.15,-20.99 -38.01,-21.39 -37.43,-21.55 -36.22,-21.80 -34.99,-21.95 -34.37,-21.99 -33.75,-22.00 -32.51,-21.95 -31.89,-21.89 -30.67,-21.68 -30.07,-21.55 -28.91,-21.20 -28.35,-20.99 -27.27,-20.51 -26.20,-19.90 -26.20,-24.09 -27.39,-24.55ZM0.64,-24.82 -1.05,-25.25 -2.79,-25.54 -4.56,-25.68 -5.45,-25.70 -7.23,-25.63 -8.11,-25.54 -8.98,-25.41 -10.70,-25.05 -11.54,-24.82 -13.17,-24.25 -14.71,-23.55 -15.44,-23.16 -16.83,-22.28 -17.47,-21.80 -18.08,-21.30 -18.66,-20.77 -19.20,-20.22 -19.71,-19.64 -20.17,-19.05 -20.60,-18.44 -20.98,-17.81 -21.32,-17.17 -21.62,-16.51 -21.87,-15.84 -22.08,-15.17 -22.24,-14.48 -22.36,-13.79 -22.43,-13.10 -22.45,-12.40 -22.43,-11.70 -22.36,-11.01 -22.24,-10.32 -22.08,-9.63 -21.87,-8.96 -21.62,-8.29 -21.32,-7.63 -20.98,-6.99 -20.60,-6.36 -20.17,-5.75 -19.71,-5.16 -19.20,-4.58 -18.66,-4.03 -18.08,-3.50 -17.47,-3.00 -16.83,-2.52 -15.44,-1.64 -14.71,-1.25 -13.17,-0.55 -11.54,0.02 -10.70,0.25 -8.98,0.61 -8.11,0.74 -7.23,0.83 -5.45,0.90 -3.67,0.83 -2.79,0.74 -1.92,0.61 -0.20,0.25 1.46,-0.25 2.65,-0.71 2.65,-5.60 1.58,-4.99 1.05,-4.74 -0.06,-4.30 -0.64,-4.11 -1.82,-3.82 -3.04,-3.61 -4.28,-3.51 -4.90,-3.50 -6.14,-3.55 -7.37,-3.70 -7.98,-3.82 -8.58,-3.95 -9.74,-4.30 -10.85,-4.74 -11.38,-4.99 -12.39,-5.56 -12.86,-5.88 -13.74,-6.56 -14.15,-6.93 -14.88,-7.71 -15.50,-8.55 -15.77,-8.99 -16.22,-9.89 -16.39,-10.36 -16.65,-11.30 -16.78,-12.27 -16.80,-12.75 -16.73,-13.72 -16.65,-14.20 -16.39,-15.14 -16.22,-15.61 -15.77,-16.51 -15.21,-17.37 -14.53,-18.19 -14.15,-18.57 -13.31,-19.29 -12.39,-19.94 -11.89,-20.23 -11.38,-20.51 -10.30,-20.99 -9.16,-21.39 -8.58,-21.55 -7.37,-21.80 -6.14,-21.95 -5.52,-21.99 -4.90,-22.00 -3.66,-21.95 -3.04,-21.89 -1.82,-21.68 -1.22,-21.55 -0.06,-21.20 0.50,-20.99 1.58,-20.51 2.65,-19.90 2.65,-24.09 1.46,-24.55Z" fill="#00ccff"/>
<ellipse cx="681.15" cy="509.00" rx="44.5" ry="33.65" fill="#00b4e6"/>
<path d="M666.13,492.62 695.52,492.62 695.52,494.40 680.36,525.54 672.94,525.54 687.48,497.57 666.13,497.57Z" fill="#fff" fill-rule="evenodd"/>
</g>
<g id="frame">
<line x1="179.0" y1="139.1" x2="632.0" y2="480.9" stroke="#5f4f7f" stroke-width="13.5" stroke-linecap="round"/>
<line x1="632.0" y1="139.1" x2="179.0" y2="480.9" stroke="#5f4f7f" stroke-width="13.5" stroke-linecap="round"/>
<path d="M346.90,263.40 L400.05,226.76 A9.6,9.6 0 0 1 410.95,226.76 L464.10,263.40 L464.10,384.75 A2.5,2.5 0 0 1 463.68,386.13 L445.39,413.66 A4.0,4.0 0 0 1 442.06,415.45 L368.94,415.45 A4.0,4.0 0 0 1 365.61,413.66 L347.32,386.13 A2.5,2.5 0 0 1 346.90,384.75 Z" fill="#5f4f7f" stroke="#5f4f7f" stroke-width="13.9" stroke-linejoin="round"/><path d="M353.85,267.20 L404.08,232.53 A2.5,2.5 0 0 1 406.92,232.53 L457.15,267.20 L457.15,382.00 A5.0,5.0 0 0 1 452.15,387.00 L358.85,387.00 A5.0,5.0 0 0 1 353.85,382.00 Z" fill="#ebebeb"/><path d="M364.8,400.9 L446.2,400.9 L441,408.6 L370,408.6 Z" fill="#ebebeb"/><rect x="374.1" y="263.9" width="62.2" height="13.3" rx="5.6" ry="5.6" fill="#5f4f7f"/>
</g>
<g id="upper">
<ellipse cx="130.75" cy="106.60" rx="102.65" ry="77.62" fill="#dedede" fill-opacity="0.6"/>
<path transform="translate(130.75,106.20)" d="M-45.37,-91.75 -50.61,-90.16 -54.75,-88.77 -58.81,-87.27 -62.80,-85.67 -66.72,-83.96 -70.55,-82.15 -74.30,-80.24 -78.53,-77.90 -77.23,-65.70 -73.16,-68.31 -69.15,-70.66 -65.00,-72.87 -60.74,-74.95 -56.36,-76.88 -51.87,-78.66 -47.28,-80.30 -42.30,-81.87 -42.30,-92.58ZM-88.10,-71.81 -90.79,-69.86 -93.18,-68.04 -97.02,-64.90 -100.67,-61.64 -102.77,-59.63 -104.80,-57.57 -108.02,-54.06 -111.04,-50.45 -112.74,-48.23 -114.38,-45.98 -116.92,-42.17 -119.24,-38.27 -120.53,-35.90 -121.73,-33.50 -123.54,-29.45 -124.52,-27.00 -125.41,-24.52 -126.71,-20.36 -127.37,-17.85 -127.94,-15.32 -128.43,-12.79 -128.83,-10.24 -129.30,-5.98 -129.52,-1.71 -129.53,0.85 -129.46,3.42 -129.14,7.69 -128.57,11.94 -128.12,14.48 -127.57,17.01 -126.47,21.20 -125.12,25.35 -124.20,27.82 -123.20,30.27 -122.11,32.70 -120.93,35.10 -118.79,39.06 -117.40,41.40 -115.93,43.71 -113.30,47.49 -111.61,49.71 -109.86,51.91 -106.76,55.48 -103.45,58.95 -101.38,60.98 -99.23,62.96 -95.51,66.17 -91.60,69.26 -87.52,72.22 -84.99,73.92 -82.40,75.58 -77.96,78.23 -75.22,79.74 -72.44,81.20 -69.60,82.61 -66.72,83.96 -61.81,86.08 -58.81,87.27 -55.77,88.41 -50.61,90.16 -47.48,91.13 -44.30,92.04 -38.95,93.42 -33.53,94.61 -30.24,95.24 -26.93,95.81 -21.38,96.61 -18.03,97.00 -14.66,97.32 -9.04,97.71 -5.65,97.86 -2.26,97.94 1.13,97.95 4.52,97.89 10.16,97.65 13.54,97.41 16.91,97.11 22.49,96.46 28.04,95.63 31.34,95.04 34.62,94.39 40.03,93.16 43.24,92.33 46.42,91.44 51.65,89.83 54.75,88.77 57.80,87.66 62.80,85.67 65.75,84.40 68.65,83.07 73.37,80.72 76.14,79.24 78.53,77.90 77.23,65.70 74.72,67.34 72.37,68.79 69.96,70.20 67.51,71.56 65.00,72.87 62.46,74.13 59.87,75.35 56.36,76.88 53.68,77.97 50.96,79.00 48.21,79.99 44.49,81.21 41.66,82.06 38.80,82.86 34.96,83.83 32.04,84.49 28.12,85.29 25.16,85.82 22.18,86.29 19.19,86.69 16.18,87.04 13.16,87.33 9.12,87.63 6.08,87.78 3.04,87.87 0.00,87.90 -3.04,87.87 -6.08,87.78 -9.12,87.63 -12.15,87.42 -16.18,87.04 -19.19,86.69 -24.17,85.98 -29.11,85.10 -33.99,84.06 -38.80,82.86 -43.55,81.50 -48.21,79.99 -52.78,78.32 -57.24,76.50 -61.60,74.54 -65.84,72.44 -69.96,70.20 -73.94,67.83 -77.78,65.32 -81.48,62.69 -85.02,59.95 -87.06,58.24 -89.05,56.50 -92.23,53.51 -95.22,50.42 -98.04,47.23 -100.67,43.95 -103.11,40.59 -105.36,37.15 -107.40,33.64 -109.24,30.06 -110.87,26.43 -112.29,22.75 -113.49,19.03 -114.48,15.26 -115.25,11.47 -115.81,7.66 -116.14,3.83 -116.25,0.00 -116.21,-2.30 -116.03,-5.37 -115.71,-8.42 -115.38,-10.71 -114.82,-13.75 -114.11,-16.77 -113.49,-19.03 -112.54,-22.01 -111.46,-24.96 -110.24,-27.89 -108.89,-30.78 -107.78,-32.93 -106.20,-35.75 -104.92,-37.84 -103.11,-40.59 -101.57,-42.75 -84.24,-35.45ZM129.42,-4.27 129.05,-8.54 128.57,-11.94 127.94,-15.32 127.16,-18.69 126.22,-22.03 124.83,-26.18 123.54,-29.45 122.11,-32.70 120.53,-35.90 118.34,-39.84 116.43,-42.94 114.38,-45.98 112.18,-48.98 109.25,-52.63 106.76,-55.48 104.13,-58.26 101.38,-60.98 98.50,-63.61 94.74,-66.80 91.60,-69.26 88.35,-71.64 84.13,-74.48 80.64,-76.66 77.05,-78.74 73.37,-80.72 69.60,-82.61 64.77,-84.83 60.81,-86.48 56.79,-88.04 51.65,-89.83 47.48,-91.13 42.30,-92.58 42.30,-81.87 46.35,-80.61 50.05,-79.34 53.68,-77.97 57.24,-76.50 60.74,-74.95 64.16,-73.30 67.51,-71.56 70.77,-69.74 73.94,-67.83 77.03,-65.83 80.02,-63.76 82.91,-61.61 85.71,-59.38 88.40,-57.09 91.60,-54.12 94.05,-51.67 95.80,-49.79 97.49,-47.87 99.12,-45.93 100.67,-43.95 102.16,-41.94 103.58,-39.91 104.92,-37.84 106.20,-35.75 107.40,-33.64 108.53,-31.50 109.58,-29.34 110.56,-27.16 111.46,-24.96 112.29,-22.75 113.04,-20.52 113.71,-18.28 114.48,-15.26 115.25,-11.47 115.71,-8.42 116.03,-5.37 116.23,-1.53 116.23,1.53 116.03,5.37 115.71,8.42 115.25,11.47 114.65,14.51 113.71,18.28 112.79,21.26 111.46,24.96 110.24,27.89 108.89,30.78 107.40,33.64 106.20,35.75 104.48,38.53 103.11,40.59 101.57,42.75 84.24,35.45 88.10,71.81 90.79,69.86 93.18,68.04 95.51,66.17 97.76,64.26 99.96,62.30 102.08,60.30 104.13,58.26 106.11,56.18 108.02,54.06 109.86,51.91 111.61,49.71 113.30,47.49 114.90,45.23 116.43,42.94 117.88,40.62 119.68,37.48 120.93,35.10 122.11,32.70 123.54,29.45 124.52,27.00 125.41,24.52 126.22,22.03 126.94,19.53 127.57,17.01 128.12,14.48 128.57,11.94 129.05,8.54 129.30,5.98 129.46,3.42 129.53,0.85 129.52,-1.71Z" fill="#33c733"/>
<path transform="translate(131.10,27.90)" d="M1.52,0.00 8.02,0.00 14.90,-18.83 21.33,0.00 27.83,0.00 36.78,-25.20 31.07,-25.20 24.62,-7.04 18.42,-25.20 11.52,-25.20 4.81,-6.80 -1.73,-25.20 -7.43,-25.20ZM-12.96,-24.55 -14.62,-25.05 -15.48,-25.25 -17.22,-25.54 -18.99,-25.68 -19.88,-25.70 -21.65,-25.63 -23.41,-25.41 -24.27,-25.25 -25.13,-25.05 -26.79,-24.55 -27.59,-24.25 -29.13,-23.55 -30.57,-22.74 -31.25,-22.28 -31.90,-21.80 -32.51,-21.30 -33.09,-20.77 -33.63,-20.22 -34.13,-19.64 -34.60,-19.05 -35.02,-18.44 -35.41,-17.81 -35.75,-17.17 -36.04,-16.51 -36.30,-15.84 -36.50,-15.17 -36.67,-14.48 -36.78,-13.79 -36.85,-13.10 -36.88,-12.40 -36.85,-11.70 -36.78,-11.01 -36.67,-10.32 -36.50,-9.63 -36.30,-8.96 -36.04,-8.29 -35.75,-7.63 -35.41,-6.99 -35.02,-6.36 -34.60,-5.75 -34.13,-5.16 -33.63,-4.58 -33.09,-4.03 -32.51,-3.50 -31.90,-3.00 -31.25,-2.52 -29.87,-1.64 -29.13,-1.25 -27.59,-0.55 -26.79,-0.25 -25.13,0.25 -23.41,0.61 -21.65,0.83 -19.87,0.90 -18.10,0.83 -17.22,0.74 -16.34,0.61 -14.62,0.25 -12.96,-0.25 -11.77,-0.71 -11.77,-5.60 -12.84,-4.99 -13.38,-4.74 -14.48,-4.30 -15.06,-4.11 -16.25,-3.82 -17.46,-3.61 -18.70,-3.51 -19.32,-3.50 -20.57,-3.55 -21.80,-3.70 -22.40,-3.82 -23.59,-4.11 -24.17,-4.30 -25.27,-4.74 -25.81,-4.99 -26.81,-5.56 -27.29,-5.88 -28.17,-6.56 -28.57,-6.93 -29.31,-7.71 -29.93,-8.55 -30.20,-8.99 -30.64,-9.89 -30.96,-10.83 -31.16,-11.78 -31.21,-12.27 -31.23,-12.75 -31.16,-13.72 -31.08,-14.20 -30.82,-15.14 -30.64,-15.61 -30.20,-16.51 -29.63,-17.37 -28.95,-18.19 -28.57,-18.57 -27.74,-19.29 -26.81,-19.94 -26.32,-20.23 -25.81,-20.51 -24.73,-20.99 -23.59,-21.39 -23.00,-21.55 -22.40,-21.68 -21.19,-21.89 -20.57,-21.95 -19.33,-22.00 -18.08,-21.95 -17.46,-21.89 -16.25,-21.68 -15.65,-21.55 -14.48,-21.20 -13.92,-20.99 -12.84,-20.51 -11.77,-19.90 -11.77,-24.09Z" fill="#33c733"/>
<ellipse cx="130.75" cy="106.00" rx="44.5" ry="33.65" fill="#2eb52e"/>
<text transform="translate(113.93,122.35) scale(1.2380,1)" font-size="45.4" fill="#fff" stroke="#fff" stroke-width="1.2" stroke-linejoin="round">2</text>
<ellipse cx="680.05" cy="106.60" rx="102.65" ry="77.62" fill="#dedede" fill-opacity="0.6"/>
<path transform="translate(680.05,106.20)" d="M60.81,-86.48 65.75,-84.40 69.60,-82.61 74.30,-80.24 78.53,-77.90 77.23,-65.70 74.72,-67.34 72.37,-68.79 69.96,-70.20 67.51,-71.56 65.00,-72.87 62.46,-74.13 57.85,-76.24 57.85,-87.64ZM88.10,-71.81 90.79,-69.86 93.18,-68.04 97.02,-64.90 100.67,-61.64 102.77,-59.63 104.80,-57.57 108.02,-54.06 111.04,-50.45 112.74,-48.23 114.38,-45.98 116.92,-42.17 119.24,-38.27 120.53,-35.90 121.73,-33.50 123.54,-29.45 124.52,-27.00 125.41,-24.52 126.71,-20.36 127.37,-17.85 127.94,-15.32 128.43,-12.79 128.83,-10.24 129.30,-5.98 129.52,-1.71 129.53,0.85 129.46,3.42 129.14,7.69 128.57,11.94 128.12,14.48 127.57,17.01 126.47,21.20 125.12,25.35 124.20,27.82 123.20,30.27 122.11,32.70 120.93,35.10 118.79,39.06 117.40,41.40 115.93,43.71 113.30,47.49 111.61,49.71 109.86,51.91 106.76,55.48 103.45,58.95 101.38,60.98 99.23,62.96 95.51,66.17 91.60,69.26 87.52,72.22 84.99,73.92 82.40,75.58 77.96,78.23 75.22,79.74 72.44,81.20 69.60,82.61 66.72,83.96 61.81,86.08 58.81,87.27 55.77,88.41 50.61,90.16 47.48,91.13 44.30,92.04 38.95,93.42 33.53,94.61 30.24,95.24 26.93,95.81 21.38,96.61 18.03,97.00 14.66,97.32 9.04,97.71 5.65,97.86 2.26,97.94 -1.13,97.95 -4.52,97.89 -10.16,97.65 -13.54,97.41 -16.91,97.11 -22.49,96.46 -28.04,95.63 -31.34,95.04 -34.62,94.39 -40.03,93.16 -43.24,92.33 -46.42,91.44 -51.65,89.83 -54.75,88.77 -57.80,87.66 -62.80,85.67 -65.75,84.40 -68.65,83.07 -73.37,80.72 -76.14,79.24 -78.53,77.90 -77.23,65.70 -74.72,67.34 -72.37,68.79 -69.96,70.20 -67.51,71.56 -65.00,72.87 -62.46,74.13 -59.87,75.35 -56.36,76.88 -53.68,77.97 -50.96,79.00 -48.21,79.99 -44.49,81.21 -41.66,82.06 -38.80,82.86 -34.96,83.83 -32.04,84.49 -28.12,85.29 -25.16,85.82 -22.18,86.29 -19.19,86.69 -16.18,87.04 -13.16,87.33 -9.12,87.63 -6.08,87.78 -3.04,87.87 -0.00,87.90 3.04,87.87 6.08,87.78 9.12,87.63 12.15,87.42 16.18,87.04 19.19,86.69 24.17,85.98 29.11,85.10 33.99,84.06 38.80,82.86 43.55,81.50 48.21,79.99 52.78,78.32 57.24,76.50 61.60,74.54 65.84,72.44 69.96,70.20 73.94,67.83 77.78,65.32 81.48,62.69 85.02,59.95 87.06,58.24 89.05,56.50 92.23,53.51 95.22,50.42 98.04,47.23 100.67,43.95 103.11,40.59 105.36,37.15 107.40,33.64 109.24,30.06 110.87,26.43 112.29,22.75 113.49,19.03 114.48,15.26 115.25,11.47 115.81,7.66 116.14,3.83 116.25,0.00 116.21,-2.30 116.03,-5.37 115.71,-8.42 115.38,-10.71 114.82,-13.75 114.11,-16.77 113.49,-19.03 112.54,-22.01 111.46,-24.96 110.24,-27.89 108.89,-30.78 107.78,-32.93 106.20,-35.75 104.92,-37.84 103.11,-40.59 101.57,-42.75 84.24,-35.45ZM-129.42,-4.27 -129.14,-7.69 -128.83,-10.24 -128.28,-13.63 -127.57,-17.01 -126.71,-20.36 -125.69,-23.70 -124.83,-26.18 -123.54,-29.45 -122.11,-32.70 -120.53,-35.90 -119.24,-38.27 -117.40,-41.40 -115.42,-44.47 -113.30,-47.49 -111.04,-50.45 -108.64,-53.35 -106.11,-56.18 -103.45,-58.95 -101.38,-60.98 -98.50,-63.61 -95.51,-66.17 -92.39,-68.65 -89.17,-71.05 -86.68,-72.79 -83.27,-75.03 -79.75,-77.19 -76.14,-79.24 -73.37,-80.72 -69.60,-82.61 -65.75,-84.40 -61.81,-86.08 -57.85,-87.64 -57.85,-76.24 -60.74,-74.95 -64.16,-73.30 -67.51,-71.56 -70.77,-69.74 -73.16,-68.31 -76.27,-66.34 -79.28,-64.29 -82.20,-62.15 -84.32,-60.51 -87.06,-58.24 -89.70,-55.91 -92.23,-53.51 -94.05,-51.67 -96.37,-49.15 -98.58,-46.58 -100.67,-43.95 -102.16,-41.94 -103.58,-39.91 -105.78,-36.45 -107.01,-34.35 -108.16,-32.22 -109.91,-28.62 -111.46,-24.96 -112.29,-22.75 -113.04,-20.52 -114.11,-16.77 -114.65,-14.51 -115.12,-12.23 -115.71,-8.42 -116.03,-5.37 -116.21,-2.30 -116.24,0.77 -116.14,3.83 -115.89,6.90 -115.50,9.95 -114.82,13.75 -114.11,16.77 -113.27,19.77 -112.02,23.49 -110.87,26.43 -109.58,29.34 -108.16,32.22 -106.20,35.75 -104.48,38.53 -103.11,40.59 -101.57,42.75 -84.24,35.45 -88.10,71.81 -90.79,69.86 -93.18,68.04 -95.51,66.17 -97.76,64.26 -99.96,62.30 -102.08,60.30 -104.13,58.26 -106.11,56.18 -108.02,54.06 -109.86,51.91 -111.61,49.71 -113.30,47.49 -114.90,45.23 -116.43,42.94 -117.88,40.62 -119.68,37.48 -120.93,35.10 -122.11,32.70 -123.54,29.45 -124.52,27.00 -125.41,24.52 -126.22,22.03 -126.94,19.53 -127.57,17.01 -128.12,14.48 -128.57,11.94 -129.05,8.54 -129.30,5.98 -129.46,3.42 -129.53,0.85 -129.52,-1.71Z" fill="#00ccff"/>
<path transform="translate(680.40,27.90)" d="M15.95,0.00 22.45,0.00 29.32,-18.83 35.75,0.00 42.25,0.00 51.20,-25.20 45.50,-25.20 39.05,-7.04 32.85,-25.20 25.95,-25.20 19.23,-6.80 12.70,-25.20 7.00,-25.20ZM-28.21,-24.82 -29.90,-25.25 -31.64,-25.54 -33.41,-25.68 -34.30,-25.70 -36.08,-25.63 -36.96,-25.54 -37.83,-25.41 -39.55,-25.05 -41.21,-24.55 -42.02,-24.25 -43.56,-23.55 -44.29,-23.16 -45.68,-22.28 -46.32,-21.80 -46.93,-21.30 -47.51,-20.77 -48.05,-20.22 -48.56,-19.64 -49.02,-19.05 -49.45,-18.44 -49.83,-17.81 -50.17,-17.17 -50.47,-16.51 -50.72,-15.84 -50.93,-15.17 -51.09,-14.48 -51.21,-13.79 -51.28,-13.10 -51.30,-12.40 -51.28,-11.70 -51.21,-11.01 -51.09,-10.32 -50.93,-9.63 -50.72,-8.96 -50.47,-8.29 -50.17,-7.63 -49.83,-6.99 -49.45,-6.36 -49.02,-5.75 -48.56,-5.16 -48.05,-4.58 -47.51,-4.03 -46.93,-3.50 -46.32,-3.00 -45.68,-2.52 -45.00,-2.06 -44.29,-1.64 -42.80,-0.88 -41.21,-0.25 -40.39,0.02 -38.70,0.45 -36.96,0.74 -36.08,0.83 -34.30,0.90 -32.52,0.83 -31.64,0.74 -30.77,0.61 -29.05,0.25 -27.39,-0.25 -26.20,-0.71 -26.20,-5.60 -27.27,-4.99 -27.80,-4.74 -28.91,-4.30 -29.49,-4.11 -30.67,-3.82 -31.89,-3.61 -33.13,-3.51 -33.75,-3.50 -34.37,-3.51 -35.61,-3.61 -36.83,-3.82 -38.01,-4.11 -38.59,-4.30 -39.70,-4.74 -40.23,-4.99 -41.24,-5.56 -41.71,-5.88 -42.59,-6.56 -43.00,-6.93 -43.73,-7.71 -44.35,-8.55 -44.62,-8.99 -45.07,-9.89 -45.39,-10.83 -45.58,-11.78 -45.63,-12.27 -45.65,-12.75 -45.58,-13.72 -45.50,-14.20 -45.24,-15.14 -44.86,-16.06 -44.35,-16.95 -44.06,-17.37 -43.38,-18.19 -43.00,-18.57 -42.16,-19.29 -41.24,-19.94 -40.74,-20.23 -40.23,-20.51 -39.15,-20.99 -38.01,-21.39 -37.43,-21.55 -36.22,-21.80 -34.99,-21.95 -34.37,-21.99 -33.75,-22.00 -32.51,-21.95 -31.89,-21.89 -30.67,-21.68 -30.07,-21.55 -28.91,-21.20 -28.35,-20.99 -27.27,-20.51 -26.20,-19.90 -26.20,-24.09 -27.39,-24.55ZM0.64,-24.82 -1.05,-25.25 -2.79,-25.54 -4.56,-25.68 -5.45,-25.70 -7.23,-25.63 -8.11,-25.54 -8.98,-25.41 -10.70,-25.05 -11.54,-24.82 -13.17,-24.25 -14.71,-23.55 -15.44,-23.16 -16.83,-22.28 -17.47,-21.80 -18.08,-21.30 -18.66,-20.77 -19.20,-20.22 -19.71,-19.64 -20.17,-19.05 -20.60,-18.44 -20.98,-17.81 -21.32,-17.17 -21.62,-16.51 -21.87,-15.84 -22.08,-15.17 -22.24,-14.48 -22.36,-13.79 -22.43,-13.10 -22.45,-12.40 -22.43,-11.70 -22.36,-11.01 -22.24,-10.32 -22.08,-9.63 -21.87,-8.96 -21.62,-8.29 -21.32,-7.63 -20.98,-6.99 -20.60,-6.36 -20.17,-5.75 -19.71,-5.16 -19.20,-4.58 -18.66,-4.03 -18.08,-3.50 -17.47,-3.00 -16.83,-2.52 -15.44,-1.64 -14.71,-1.25 -13.17,-0.55 -11.54,0.02 -10.70,0.25 -8.98,0.61 -8.11,0.74 -7.23,0.83 -5.45,0.90 -3.67,0.83 -2.79,0.74 -1.92,0.61 -0.20,0.25 1.46,-0.25 2.65,-0.71 2.65,-5.60 1.58,-4.99 1.05,-4.74 -0.06,-4.30 -0.64,-4.11 -1.82,-3.82 -3.04,-3.61 -4.28,-3.51 -4.90,-3.50 -6.14,-3.55 -7.37,-3.70 -7.98,-3.82 -8.58,-3.95 -9.74,-4.30 -10.85,-4.74 -11.38,-4.99 -12.39,-5.56 -12.86,-5.88 -13.74,-6.56 -14.15,-6.93 -14.88,-7.71 -15.50,-8.55 -15.77,-8.99 -16.22,-9.89 -16.39,-10.36 -16.65,-11.30 -16.78,-12.27 -16.80,-12.75 -16.73,-13.72 -16.65,-14.20 -16.39,-15.14 -16.22,-15.61 -15.77,-16.51 -15.21,-17.37 -14.53,-18.19 -14.15,-18.57 -13.31,-19.29 -12.39,-19.94 -11.89,-20.23 -11.38,-20.51 -10.30,-20.99 -9.16,-21.39 -8.58,-21.55 -7.37,-21.80 -6.14,-21.95 -5.52,-21.99 -4.90,-22.00 -3.66,-21.95 -3.04,-21.89 -1.82,-21.68 -1.22,-21.55 -0.06,-21.20 0.50,-20.99 1.58,-20.51 2.65,-19.90 2.65,-24.09 1.46,-24.55Z" fill="#00ccff"/>
<ellipse cx="680.05" cy="106.00" rx="44.5" ry="33.65" fill="#00b4e6"/>
<path d="M682.00,90.04 685.74,90.04 685.74,122.90 678.30,122.90 678.30,96.10 668.90,99.20 668.70,95.00Z" fill="#fff" fill-rule="evenodd"/>
<ellipse cx="130.75" cy="443.20" rx="102.65" ry="77.62" fill="#dedede" fill-opacity="0.6"/>
<path transform="translate(130.75,442.80)" d="M60.81,-86.48 65.75,-84.40 69.60,-82.61 74.30,-80.24 78.53,-77.90 77.23,-65.70 74.72,-67.34 72.37,-68.79 69.96,-70.20 67.51,-71.56 65.00,-72.87 62.46,-74.13 57.85,-76.24 57.85,-87.64ZM88.10,-71.81 90.79,-69.86 93.18,-68.04 97.02,-64.90 100.67,-61.64 102.77,-59.63 104.80,-57.57 108.02,-54.06 111.04,-50.45 112.74,-48.23 114.38,-45.98 116.92,-42.17 119.24,-38.27 120.53,-35.90 121.73,-33.50 123.54,-29.45 124.52,-27.00 125.41,-24.52 126.71,-20.36 127.37,-17.85 127.94,-15.32 128.43,-12.79 128.83,-10.24 129.30,-5.98 129.52,-1.71 129.53,0.85 129.46,3.42 129.14,7.69 128.57,11.94 128.12,14.48 127.57,17.01 126.47,21.20 125.12,25.35 124.20,27.82 123.20,30.27 122.11,32.70 120.93,35.10 118.79,39.06 117.40,41.40 115.93,43.71 113.30,47.49 111.61,49.71 109.86,51.91 106.76,55.48 103.45,58.95 101.38,60.98 99.23,62.96 95.51,66.17 91.60,69.26 87.52,72.22 84.99,73.92 82.40,75.58 77.96,78.23 75.22,79.74 72.44,81.20 69.60,82.61 66.72,83.96 61.81,86.08 58.81,87.27 55.77,88.41 50.61,90.16 47.48,91.13 44.30,92.04 38.95,93.42 33.53,94.61 30.24,95.24 26.93,95.81 21.38,96.61 18.03,97.00 14.66,97.32 9.04,97.71 5.65,97.86 2.26,97.94 -1.13,97.95 -4.52,97.89 -10.16,97.65 -13.54,97.41 -16.91,97.11 -22.49,96.46 -28.04,95.63 -31.34,95.04 -34.62,94.39 -40.03,93.16 -43.24,92.33 -46.42,91.44 -51.65,89.83 -54.75,88.77 -57.80,87.66 -62.80,85.67 -65.75,84.40 -68.65,83.07 -73.37,80.72 -76.14,79.24 -78.53,77.90 -77.23,65.70 -74.72,67.34 -72.37,68.79 -69.96,70.20 -67.51,71.56 -65.00,72.87 -62.46,74.13 -59.87,75.35 -56.36,76.88 -53.68,77.97 -50.96,79.00 -48.21,79.99 -44.49,81.21 -41.66,82.06 -38.80,82.86 -34.96,83.83 -32.04,84.49 -28.12,85.29 -25.16,85.82 -22.18,86.29 -19.19,86.69 -16.18,87.04 -13.16,87.33 -9.12,87.63 -6.08,87.78 -3.04,87.87 -0.00,87.90 3.04,87.87 6.08,87.78 9.12,87.63 12.15,87.42 16.18,87.04 19.19,86.69 24.17,85.98 29.11,85.10 33.99,84.06 38.80,82.86 43.55,81.50 48.21,79.99 52.78,78.32 57.24,76.50 61.60,74.54 65.84,72.44 69.96,70.20 73.94,67.83 77.78,65.32 81.48,62.69 85.02,59.95 87.06,58.24 89.05,56.50 92.23,53.51 95.22,50.42 98.04,47.23 100.67,43.95 103.11,40.59 105.36,37.15 107.40,33.64 109.24,30.06 110.87,26.43 112.29,22.75 113.49,19.03 114.48,15.26 115.25,11.47 115.81,7.66 116.14,3.83 116.25,0.00 116.21,-2.30 116.03,-5.37 115.71,-8.42 115.38,-10.71 114.82,-13.75 114.11,-16.77 113.49,-19.03 112.54,-22.01 111.46,-24.96 110.24,-27.89 108.89,-30.78 107.78,-32.93 106.20,-35.75 104.92,-37.84 103.11,-40.59 101.57,-42.75 84.24,-35.45ZM-129.42,-4.27 -129.14,-7.69 -128.83,-10.24 -128.28,-13.63 -127.57,-17.01 -126.71,-20.36 -125.69,-23.70 -124.83,-26.18 -123.54,-29.45 -122.11,-32.70 -120.53,-35.90 -119.24,-38.27 -117.40,-41.40 -115.42,-44.47 -113.30,-47.49 -111.04,-50.45 -108.64,-53.35 -106.11,-56.18 -103.45,-58.95 -101.38,-60.98 -98.50,-63.61 -95.51,-66.17 -92.39,-68.65 -89.17,-71.05 -86.68,-72.79 -83.27,-75.03 -79.75,-77.19 -76.14,-79.24 -73.37,-80.72 -69.60,-82.61 -65.75,-84.40 -61.81,-86.08 -57.85,-87.64 -57.85,-76.24 -60.74,-74.95 -64.16,-73.30 -67.51,-71.56 -70.77,-69.74 -73.16,-68.31 -76.27,-66.34 -79.28,-64.29 -82.20,-62.15 -84.32,-60.51 -87.06,-58.24 -89.70,-55.91 -92.23,-53.51 -94.05,-51.67 -96.37,-49.15 -98.58,-46.58 -100.67,-43.95 -102.16,-41.94 -103.58,-39.91 -105.78,-36.45 -107.01,-34.35 -108.16,-32.22 -109.91,-28.62 -111.46,-24.96 -112.29,-22.75 -113.04,-20.52 -114.11,-16.77 -114.65,-14.51 -115.12,-12.23 -115.71,-8.42 -116.03,-5.37 -116.21,-2.30 -116.24,0.77 -116.14,3.83 -115.89,6.90 -115.50,9.95 -114.82,13.75 -114.11,16.77 -113.27,19.77 -112.02,23.49 -110.87,26.43 -109.58,29.34 -108.16,32.22 -106.20,35.75 -104.48,38.53 -103.11,40.59 -101.57,42.75 -84.24,35.45 -88.10,71.81 -90.79,69.86 -93.18,68.04 -95.51,66.17 -97.76,64.26 -99.96,62.30 -102.08,60.30 -104.13,58.26 -106.11,56.18 -108.02,54.06 -109.86,51.91 -111.61,49.71 -113.30,47.49 -114.90,45.23 -116.43,42.94 -117.88,40.62 -119.68,37.48 -120.93,35.10 -122.11,32.70 -123.54,29.45 -124.52,27.00 -125.41,24.52 -126.22,22.03 -126.94,19.53 -127.57,17.01 -128.12,14.48 -128.57,11.94 -129.05,8.54 -129.30,5.98 -129.46,3.42 -129.53,0.85 -129.52,-1.71Z" fill="#00ccff"/>
<path transform="translate(131.10,364.50)" d="M15.95,0.00 22.45,0.00 29.32,-18.83 35.75,0.00 42.25,0.00 51.20,-25.20 45.50,-25.20 39.05,-7.04 32.85,-25.20 25.95,-25.20 19.23,-6.80 12.70,-25.20 7.00,-25.20ZM-28.21,-24.82 -29.90,-25.25 -31.64,-25.54 -33.41,-25.68 -34.30,-25.70 -36.08,-25.63 -36.96,-25.54 -37.83,-25.41 -39.55,-25.05 -41.21,-24.55 -42.02,-24.25 -43.56,-23.55 -44.29,-23.16 -45.68,-22.28 -46.32,-21.80 -46.93,-21.30 -47.51,-20.77 -48.05,-20.22 -48.56,-19.64 -49.02,-19.05 -49.45,-18.44 -49.83,-17.81 -50.17,-17.17 -50.47,-16.51 -50.72,-15.84 -50.93,-15.17 -51.09,-14.48 -51.21,-13.79 -51.28,-13.10 -51.30,-12.40 -51.28,-11.70 -51.21,-11.01 -51.09,-10.32 -50.93,-9.63 -50.72,-8.96 -50.47,-8.29 -50.17,-7.63 -49.83,-6.99 -49.45,-6.36 -49.02,-5.75 -48.56,-5.16 -48.05,-4.58 -47.51,-4.03 -46.93,-3.50 -46.32,-3.00 -45.68,-2.52 -45.00,-2.06 -44.29,-1.64 -42.80,-0.88 -41.21,-0.25 -40.39,0.02 -38.70,0.45 -36.96,0.74 -36.08,0.83 -34.30,0.90 -32.52,0.83 -31.64,0.74 -30.77,0.61 -29.05,0.25 -27.39,-0.25 -26.20,-0.71 -26.20,-5.60 -27.27,-4.99 -27.80,-4.74 -28.91,-4.30 -29.49,-4.11 -30.67,-3.82 -31.89,-3.61 -33.13,-3.51 -33.75,-3.50 -34.37,-3.51 -35.61,-3.61 -36.83,-3.82 -38.01,-4.11 -38.59,-4.30 -39.70,-4.74 -40.23,-4.99 -41.24,-5.56 -41.71,-5.88 -42.59,-6.56 -43.00,-6.93 -43.73,-7.71 -44.35,-8.55 -44.62,-8.99 -45.07,-9.89 -45.39,-10.83 -45.58,-11.78 -45.63,-12.27 -45.65,-12.75 -45.58,-13.72 -45.50,-14.20 -45.24,-15.14 -44.86,-16.06 -44.35,-16.95 -44.06,-17.37 -43.38,-18.19 -43.00,-18.57 -42.16,-19.29 -41.24,-19.94 -40.74,-20.23 -40.23,-20.51 -39.15,-20.99 -38.01,-21.39 -37.43,-21.55 -36.22,-21.80 -34.99,-21.95 -34.37,-21.99 -33.75,-22.00 -32.51,-21.95 -31.89,-21.89 -30.67,-21.68 -30.07,-21.55 -28.91,-21.20 -28.35,-20.99 -27.27,-20.51 -26.20,-19.90 -26.20,-24.09 -27.39,-24.55ZM0.64,-24.82 -1.05,-25.25 -2.79,-25.54 -4.56,-25.68 -5.45,-25.70 -7.23,-25.63 -8.11,-25.54 -8.98,-25.41 -10.70,-25.05 -11.54,-24.82 -13.17,-24.25 -14.71,-23.55 -15.44,-23.16 -16.83,-22.28 -17.47,-21.80 -18.08,-21.30 -18.66,-20.77 -19.20,-20.22 -19.71,-19.64 -20.17,-19.05 -20.60,-18.44 -20.98,-17.81 -21.32,-17.17 -21.62,-16.51 -21.87,-15.84 -22.08,-15.17 -22.24,-14.48 -22.36,-13.79 -22.43,-13.10 -22.45,-12.40 -22.43,-11.70 -22.36,-11.01 -22.24,-10.32 -22.08,-9.63 -21.87,-8.96 -21.62,-8.29 -21.32,-7.63 -20.98,-6.99 -20.60,-6.36 -20.17,-5.75 -19.71,-5.16 -19.20,-4.58 -18.66,-4.03 -18.08,-3.50 -17.47,-3.00 -16.83,-2.52 -15.44,-1.64 -14.71,-1.25 -13.17,-0.55 -11.54,0.02 -10.70,0.25 -8.98,0.61 -8.11,0.74 -7.23,0.83 -5.45,0.90 -3.67,0.83 -2.79,0.74 -1.92,0.61 -0.20,0.25 1.46,-0.25 2.65,-0.71 2.65,-5.60 1.58,-4.99 1.05,-4.74 -0.06,-4.30 -0.64,-4.11 -1.82,-3.82 -3.04,-3.61 -4.28,-3.51 -4.90,-3.50 -6.14,-3.55 -7.37,-3.70 -7.98,-3.82 -8.58,-3.95 -9.74,-4.30 -10.85,-4.74 -11.38,-4.99 -12.39,-5.56 -12.86,-5.88 -13.74,-6.56 -14.15,-6.93 -14.88,-7.71 -15.50,-8.55 -15.77,-8.99 -16.22,-9.89 -16.39,-10.36 -16.65,-11.30 -16.78,-12.27 -16.80,-12.75 -16.73,-13.72 -16.65,-14.20 -16.39,-15.14 -16.22,-15.61 -15.77,-16.51 -15.21,-17.37 -14.53,-18.19 -14.15,-18.57 -13.31,-19.29 -12.39,-19.94 -11.89,-20.23 -11.38,-20.51 -10.30,-20.99 -9.16,-21.39 -8.58,-21.55 -7.37,-21.80 -6.14,-21.95 -5.52,-21.99 -4.90,-22.00 -3.66,-21.95 -3.04,-21.89 -1.82,-21.68 -1.22,-21.55 -0.06,-21.20 0.50,-20.99 1.58,-20.51 2.65,-19.90 2.65,-24.09 1.46,-24.55Z" fill="#00ccff"/>
<ellipse cx="130.75" cy="442.60" rx="44.5" ry="33.65" fill="#00b4e6"/>
<text transform="translate(115.34,458.55) scale(1.1669,1)" font-size="45.4" fill="#fff" stroke="#fff" stroke-width="1.2" stroke-linejoin="round">3</text>
<ellipse cx="680.05" cy="443.20" rx="102.65" ry="77.62" fill="#dedede" fill-opacity="0.6"/>
<path transform="translate(680.05,442.80)" d="M-45.37,-91.75 -50.61,-90.16 -54.75,-88.77 -58.81,-87.27 -62.80,-85.67 -66.72,-83.96 -70.55,-82.15 -74.30,-80.24 -78.53,-77.90 -77.23,-65.70 -73.16,-68.31 -69.15,-70.66 -65.00,-72.87 -60.74,-74.95 -56.36,-76.88 -51.87,-78.66 -47.28,-80.30 -42.30,-81.87 -42.30,-92.58ZM-88.10,-71.81 -90.79,-69.86 -93.18,-68.04 -97.02,-64.90 -100.67,-61.64 -102.77,-59.63 -104.80,-57.57 -108.02,-54.06 -111.04,-50.45 -112.74,-48.23 -114.38,-45.98 -116.92,-42.17 -119.24,-38.27 -120.53,-35.90 -121.73,-33.50 -123.54,-29.45 -124.52,-27.00 -125.41,-24.52 -126.71,-20.36 -127.37,-17.85 -127.94,-15.32 -128.43,-12.79 -128.83,-10.24 -129.30,-5.98 -129.52,-1.71 -129.53,0.85 -129.46,3.42 -129.14,7.69 -128.57,11.94 -128.12,14.48 -127.57,17.01 -126.47,21.20 -125.12,25.35 -124.20,27.82 -123.20,30.27 -122.11,32.70 -120.93,35.10 -118.79,39.06 -117.40,41.40 -115.93,43.71 -113.30,47.49 -111.61,49.71 -109.86,51.91 -106.76,55.48 -103.45,58.95 -101.38,60.98 -99.23,62.96 -95.51,66.17 -91.60,69.26 -87.52,72.22 -84.99,73.92 -82.40,75.58 -77.96,78.23 -75.22,79.74 -72.44,81.20 -69.60,82.61 -66.72,83.96 -61.81,86.08 -58.81,87.27 -55.77,88.41 -50.61,90.16 -47.48,91.13 -44.30,92.04 -38.95,93.42 -33.53,94.61 -30.24,95.24 -26.93,95.81 -21.38,96.61 -18.03,97.00 -14.66,97.32 -9.04,97.71 -5.65,97.86 -2.26,97.94 1.13,97.95 4.52,97.89 10.16,97.65 13.54,97.41 16.91,97.11 22.49,96.46 28.04,95.63 31.34,95.04 34.62,94.39 40.03,93.16 43.24,92.33 46.42,91.44 51.65,89.83 54.75,88.77 57.80,87.66 62.80,85.67 65.75,84.40 68.65,83.07 73.37,80.72 76.14,79.24 78.53,77.90 77.23,65.70 74.72,67.34 72.37,68.79 69.96,70.20 67.51,71.56 65.00,72.87 62.46,74.13 59.87,75.35 56.36,76.88 53.68,77.97 50.96,79.00 48.21,79.99 44.49,81.21 41.66,82.06 38.80,82.86 34.96,83.83 32.04,84.49 28.12,85.29 25.16,85.82 22.18,86.29 19.19,86.69 16.18,87.04 13.16,87.33 9.12,87.63 6.08,87.78 3.04,87.87 0.00,87.90 -3.04,87.87 -6.08,87.78 -9.12,87.63 -12.15,87.42 -16.18,87.04 -19.19,86.69 -24.17,85.98 -29.11,85.10 -33.99,84.06 -38.80,82.86 -43.55,81.50 -48.21,79.99 -52.78,78.32 -57.24,76.50 -61.60,74.54 -65.84,72.44 -69.96,70.20 -73.94,67.83 -77.78,65.32 -81.48,62.69 -85.02,59.95 -87.06,58.24 -89.05,56.50 -92.23,53.51 -95.22,50.42 -98.04,47.23 -100.67,43.95 -103.11,40.59 -105.36,37.15 -107.40,33.64 -109.24,30.06 -110.87,26.43 -112.29,22.75 -113.49,19.03 -114.48,15.26 -115.25,11.47 -115.81,7.66 -116.14,3.83 -116.25,0.00 -116.21,-2.30 -116.03,-5.37 -115.71,-8.42 -115.38,-10.71 -114.82,-13.75 -114.11,-16.77 -113.49,-19.03 -112.54,-22.01 -111.46,-24.96 -110.24,-27.89 -108.89,-30.78 -107.78,-32.93 -106.20,-35.75 -104.92,-37.84 -103.11,-40.59 -101.57,-42.75 -84.24,-35.45ZM129.42,-4.27 129.05,-8.54 128.57,-11.94 127.94,-15.32 127.16,-18.69 126.22,-22.03 124.83,-26.18 123.54,-29.45 122.11,-32.70 120.53,-35.90 118.34,-39.84 116.43,-42.94 114.38,-45.98 112.18,-48.98 109.25,-52.63 106.76,-55.48 104.13,-58.26 101.38,-60.98 98.50,-63.61 94.74,-66.80 91.60,-69.26 88.35,-71.64 84.13,-74.48 80.64,-76.66 77.05,-78.74 73.37,-80.72 69.60,-82.61 64.77,-84.83 60.81,-86.48 56.79,-88.04 51.65,-89.83 47.48,-91.13 42.30,-92.58 42.30,-81.87 46.35,-80.61 50.05,-79.34 53.68,-77.97 57.24,-76.50 60.74,-74.95 64.16,-73.30 67.51,-71.56 70.77,-69.74 73.94,-67.83 77.03,-65.83 80.02,-63.76 82.91,-61.61 85.71,-59.38 88.40,-57.09 91.60,-54.12 94.05,-51.67 95.80,-49.79 97.49,-47.87 99.12,-45.93 100.67,-43.95 102.16,-41.94 103.58,-39.91 104.92,-37.84 106.20,-35.75 107.40,-33.64 108.53,-31.50 109.58,-29.34 110.56,-27.16 111.46,-24.96 112.29,-22.75 113.04,-20.52 113.71,-18.28 114.48,-15.26 115.25,-11.47 115.71,-8.42 116.03,-5.37 116.23,-1.53 116.23,1.53 116.03,5.37 115.71,8.42 115.25,11.47 114.65,14.51 113.71,18.28 112.79,21.26 111.46,24.96 110.24,27.89 108.89,30.78 107.40,33.64 106.20,35.75 104.48,38.53 103.11,40.59 101.57,42.75 84.24,35.45 88.10,71.81 90.79,69.86 93.18,68.04 95.51,66.17 97.76,64.26 99.96,62.30 102.08,60.30 104.13,58.26 106.11,56.18 108.02,54.06 109.86,51.91 111.61,49.71 113.30,47.49 114.90,45.23 116.43,42.94 117.88,40.62 119.68,37.48 120.93,35.10 122.11,32.70 123.54,29.45 124.52,27.00 125.41,24.52 126.22,22.03 126.94,19.53 127.57,17.01 128.12,14.48 128.57,11.94 129.05,8.54 129.30,5.98 129.46,3.42 129.53,0.85 129.52,-1.71Z" fill="#33c733"/>
<path transform="translate(680.40,364.50)" d="M1.52,0.00 8.02,0.00 14.90,-18.83 21.33,0.00 27.83,0.00 36.78,-25.20 31.07,-25.20 24.62,-7.04 18.42,-25.20 11.52,-25.20 4.81,-6.80 -1.73,-25.20 -7.43,-25.20ZM-12.96,-24.55 -14.62,-25.05 -15.48,-25.25 -17.22,-25.54 -18.99,-25.68 -19.88,-25.70 -21.65,-25.63 -23.41,-25.41 -24.27,-25.25 -25.13,-25.05 -26.79,-24.55 -27.59,-24.25 -29.13,-23.55 -30.57,-22.74 -31.25,-22.28 -31.90,-21.80 -32.51,-21.30 -33.09,-20.77 -33.63,-20.22 -34.13,-19.64 -34.60,-19.05 -35.02,-18.44 -35.41,-17.81 -35.75,-17.17 -36.04,-16.51 -36.30,-15.84 -36.50,-15.17 -36.67,-14.48 -36.78,-13.79 -36.85,-13.10 -36.88,-12.40 -36.85,-11.70 -36.78,-11.01 -36.67,-10.32 -36.50,-9.63 -36.30,-8.96 -36.04,-8.29 -35.75,-7.63 -35.41,-6.99 -35.02,-6.36 -34.60,-5.75 -34.13,-5.16 -33.63,-4.58 -33.09,-4.03 -32.51,-3.50 -31.90,-3.00 -31.25,-2.52 -29.87,-1.64 -29.13,-1.25 -27.59,-0.55 -26.79,-0.25 -25.13,0.25 -23.41,0.61 -21.65,0.83 -19.87,0.90 -18.10,0.83 -17.22,0.74 -16.34,0.61 -14.62,0.25 -12.96,-0.25 -11.77,-0.71 -11.77,-5.60 -12.84,-4.99 -13.38,-4.74 -14.48,-4.30 -15.06,-4.11 -16.25,-3.82 -17.46,-3.61 -18.70,-3.51 -19.32,-3.50 -20.57,-3.55 -21.80,-3.70 -22.40,-3.82 -23.59,-4.11 -24.17,-4.30 -25.27,-4.74 -25.81,-4.99 -26.81,-5.56 -27.29,-5.88 -28.17,-6.56 -28.57,-6.93 -29.31,-7.71 -29.93,-8.55 -30.20,-8.99 -30.64,-9.89 -30.96,-10.83 -31.16,-11.78 -31.21,-12.27 -31.23,-12.75 -31.16,-13.72 -31.08,-14.20 -30.82,-15.14 -30.64,-15.61 -30.20,-16.51 -29.63,-17.37 -28.95,-18.19 -28.57,-18.57 -27.74,-19.29 -26.81,-19.94 -26.32,-20.23 -25.81,-20.51 -24.73,-20.99 -23.59,-21.39 -23.00,-21.55 -22.40,-21.68 -21.19,-21.89 -20.57,-21.95 -19.33,-22.00 -18.08,-21.95 -17.46,-21.89 -16.25,-21.68 -15.65,-21.55 -14.48,-21.20 -13.92,-20.99 -12.84,-20.51 -11.77,-19.90 -11.77,-24.09Z" fill="#33c733"/>
<ellipse cx="680.05" cy="442.60" rx="44.5" ry="33.65" fill="#2eb52e"/>
<path d="M682.03,426.30 689.76,426.30 689.76,447.10 695.77,447.10 695.77,451.60 689.76,451.60 689.76,459.10 682.65,459.10 682.65,451.60 662.72,451.60 662.72,447.10ZM669.96,447.10 682.65,434.10 682.65,447.10Z" fill="#fff" fill-rule="evenodd"/>
</g>
<text transform="translate(243.0,765.7) scale(0.925,1)" font-size="43.8" fill="#000" stroke="#000" stroke-width="1.2" stroke-linejoin="round" font-weight="bold" font-style="italic">OCTO</text><text transform="translate(375.0,765.7) scale(0.983,1)" font-size="43.8" fill="#000" stroke="#000" stroke-width="1.2" stroke-linejoin="round" font-weight="bold" font-style="italic">QUAD</text><text transform="translate(515.3,765.7) scale(0.955,1)" font-size="43.8" fill="#000" stroke="#000" stroke-width="1.2" stroke-linejoin="round" font-weight="bold" font-style="italic">X8</text>
</svg>
</body>
</html>
